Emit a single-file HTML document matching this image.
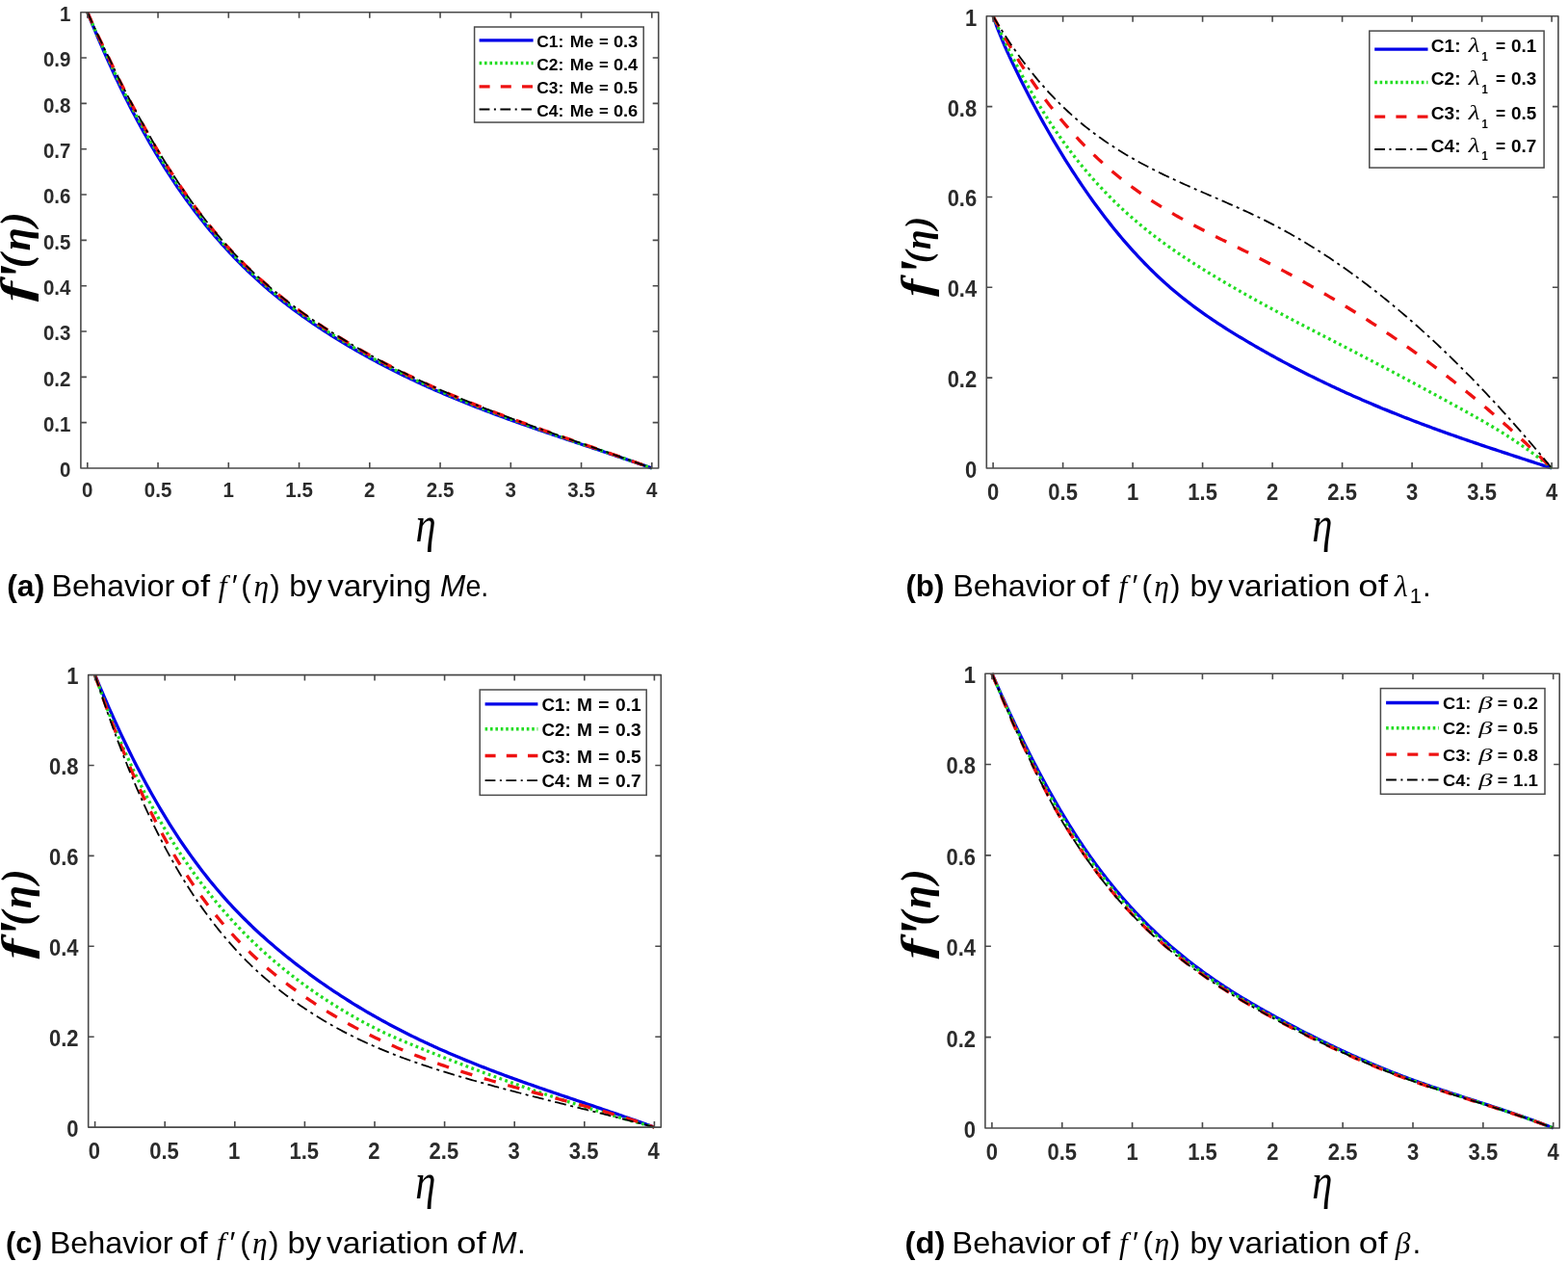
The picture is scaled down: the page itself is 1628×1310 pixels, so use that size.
<!DOCTYPE html>
<html><head><meta charset="utf-8"><title>Behavior of f'(eta)</title>
<style>html,body{margin:0;padding:0;background:#fff;overflow:hidden;} svg{display:block;}</style></head>
<body><svg width="1628" height="1310" viewBox="0 0 1628 1310">
<rect width="1628" height="1310" fill="#fff"/>
<clipPath id="clipa"><rect x="80.9" y="9.7" width="605.8000000000001" height="479.3"/></clipPath>
<g clip-path="url(#clipa)" fill="none" stroke-linecap="butt" stroke-linejoin="round">
<path d="M90.80,12.70 L93.25,18.77 L95.70,24.76 L98.16,30.67 L100.61,36.51 L103.06,42.26 L105.51,47.94 L107.96,53.54 L110.42,59.07 L112.87,64.52 L115.32,69.90 L117.77,75.21 L120.22,80.45 L122.67,85.61 L125.13,90.70 L127.58,95.73 L130.03,100.68 L132.48,105.57 L134.93,110.38 L137.39,115.14 L139.84,119.82 L142.29,124.44 L144.74,129.00 L147.19,133.49 L149.65,137.92 L152.10,142.28 L154.55,146.59 L157.00,150.83 L159.45,155.01 L161.90,159.14 L164.36,163.20 L166.81,167.21 L169.26,171.16 L171.71,175.06 L174.16,178.90 L176.62,182.68 L179.07,186.41 L181.52,190.09 L183.97,193.71 L186.42,197.28 L188.88,200.80 L191.33,204.27 L193.78,207.69 L196.23,211.06 L198.68,214.39 L201.13,217.66 L203.59,220.89 L206.04,224.08 L208.49,227.22 L210.94,230.31 L213.39,233.36 L215.85,236.37 L218.30,239.33 L220.75,242.26 L223.20,245.14 L225.65,247.98 L228.11,250.78 L230.56,253.54 L233.01,256.27 L235.46,258.95 L237.91,261.60 L240.36,264.21 L242.82,266.79 L245.27,269.32 L247.72,271.83 L250.17,274.29 L252.62,276.73 L255.08,279.13 L257.53,281.49 L259.98,283.83 L262.43,286.13 L264.88,288.40 L267.34,290.64 L269.79,292.85 L272.24,295.02 L274.69,297.17 L277.14,299.29 L279.59,301.39 L282.05,303.45 L284.50,305.49 L286.95,307.50 L289.40,309.49 L291.85,311.45 L294.31,313.38 L296.76,315.29 L299.21,317.18 L301.66,319.04 L304.11,320.88 L306.57,322.70 L309.02,324.50 L311.47,326.28 L313.92,328.04 L316.37,329.77 L318.83,331.49 L321.28,333.19 L323.73,334.87 L326.18,336.53 L328.63,338.18 L331.08,339.81 L333.54,341.43 L335.99,343.03 L338.44,344.61 L340.89,346.18 L343.34,347.74 L345.80,349.28 L348.25,350.81 L350.70,352.33 L353.15,353.83 L355.60,355.32 L358.06,356.80 L360.51,358.26 L362.96,359.72 L365.41,361.16 L367.86,362.58 L370.31,364.00 L372.77,365.40 L375.22,366.79 L377.67,368.17 L380.12,369.54 L382.57,370.90 L385.03,372.24 L387.48,373.57 L389.93,374.90 L392.38,376.21 L394.83,377.51 L397.29,378.80 L399.74,380.07 L402.19,381.34 L404.64,382.60 L407.09,383.85 L409.54,385.08 L412.00,386.31 L414.45,387.52 L416.90,388.73 L419.35,389.93 L421.80,391.12 L424.26,392.29 L426.71,393.46 L429.16,394.62 L431.61,395.77 L434.06,396.91 L436.52,398.04 L438.97,399.17 L441.42,400.28 L443.87,401.39 L446.32,402.49 L448.77,403.58 L451.23,404.66 L453.68,405.73 L456.13,406.80 L458.58,407.85 L461.03,408.90 L463.49,409.95 L465.94,410.98 L468.39,412.01 L470.84,413.03 L473.29,414.04 L475.75,415.05 L478.20,416.05 L480.65,417.05 L483.10,418.03 L485.55,419.01 L488.01,419.99 L490.46,420.96 L492.91,421.92 L495.36,422.87 L497.81,423.82 L500.26,424.77 L502.72,425.71 L505.17,426.64 L507.62,427.57 L510.07,428.50 L512.52,429.41 L514.98,430.33 L517.43,431.24 L519.88,432.14 L522.33,433.04 L524.78,433.94 L527.24,434.83 L529.69,435.71 L532.14,436.60 L534.59,437.47 L537.04,438.35 L539.49,439.22 L541.95,440.09 L544.40,440.95 L546.85,441.81 L549.30,442.67 L551.75,443.53 L554.21,444.38 L556.66,445.23 L559.11,446.08 L561.56,446.92 L564.01,447.76 L566.47,448.60 L568.92,449.44 L571.37,450.27 L573.82,451.11 L576.27,451.94 L578.72,452.77 L581.18,453.59 L583.63,454.42 L586.08,455.25 L588.53,456.07 L590.98,456.89 L593.44,457.72 L595.89,458.54 L598.34,459.36 L600.79,460.18 L603.24,461.00 L605.70,461.82 L608.15,462.64 L610.60,463.46 L613.05,464.27 L615.50,465.09 L617.95,465.91 L620.41,466.73 L622.86,467.55 L625.31,468.38 L627.76,469.20 L630.21,470.02 L632.67,470.85 L635.12,471.67 L637.57,472.50 L640.02,473.33 L642.47,474.16 L644.93,474.99 L647.38,475.82 L649.83,476.65 L652.28,477.49 L654.73,478.33 L657.18,479.17 L659.64,480.02 L662.09,480.86 L664.54,481.71 L666.99,482.56 L669.44,483.42 L671.90,484.28 L674.35,485.14 L676.80,486.00" stroke="#0000e8" stroke-width="3.3"/>
<path d="M90.80,12.70 L93.25,18.51 L95.70,24.24 L98.16,29.89 L100.61,35.46 L103.06,40.95 L105.51,46.37 L107.96,51.71 L110.42,56.98 L112.87,62.18 L115.32,67.50 L117.77,72.75 L120.22,77.93 L122.67,83.04 L125.13,88.07 L127.58,93.04 L130.03,97.94 L132.48,102.76 L134.93,107.53 L137.39,112.22 L139.84,116.85 L142.29,121.41 L144.74,125.91 L147.19,130.34 L149.65,134.73 L152.10,139.13 L154.55,143.47 L157.00,147.76 L159.45,151.98 L161.90,156.14 L164.36,160.25 L166.81,164.29 L169.26,168.28 L171.71,172.21 L174.16,176.09 L176.62,179.91 L179.07,183.68 L181.52,187.40 L183.97,191.06 L186.42,194.67 L188.88,198.23 L191.33,201.74 L193.78,205.20 L196.23,208.61 L198.68,211.97 L201.13,215.28 L203.59,218.55 L206.04,221.77 L208.49,224.95 L210.94,228.08 L213.39,231.17 L215.85,234.22 L218.30,237.22 L220.75,240.18 L223.20,243.11 L225.65,245.99 L228.11,248.83 L230.56,251.63 L233.01,254.39 L235.46,257.11 L237.91,259.79 L240.36,262.41 L242.82,264.99 L245.27,267.53 L247.72,270.04 L250.17,272.51 L252.62,274.95 L255.08,277.36 L257.53,279.73 L259.98,282.07 L262.43,284.37 L264.88,286.65 L267.34,288.89 L269.79,291.11 L272.24,293.29 L274.69,295.44 L277.14,297.57 L279.59,299.67 L282.05,301.74 L284.50,303.78 L286.95,305.80 L289.40,307.79 L291.85,309.75 L294.31,311.69 L296.76,313.61 L299.21,315.50 L301.66,317.37 L304.11,319.22 L306.57,321.04 L309.02,322.85 L311.47,324.63 L313.92,326.39 L316.37,328.14 L318.83,329.86 L321.28,331.56 L323.73,333.25 L326.18,334.92 L328.63,336.57 L331.08,338.21 L333.54,339.83 L335.99,341.43 L338.44,343.02 L340.89,344.60 L343.34,346.16 L345.80,347.71 L348.25,349.24 L350.70,350.76 L353.15,352.27 L355.60,353.77 L358.06,355.25 L360.51,356.72 L362.96,358.18 L365.41,359.62 L367.86,361.06 L370.31,362.48 L372.77,363.89 L375.22,365.28 L377.67,366.67 L380.12,368.04 L382.57,369.40 L385.03,370.76 L387.48,372.10 L389.93,373.43 L392.38,374.75 L394.83,376.06 L397.29,377.36 L399.74,378.65 L402.19,379.93 L404.64,381.20 L407.09,382.46 L409.54,383.70 L412.00,384.94 L414.45,386.17 L416.90,387.38 L419.35,388.59 L421.80,389.79 L424.26,390.98 L426.71,392.16 L429.16,393.33 L431.61,394.49 L434.06,395.64 L436.52,396.78 L438.97,397.92 L441.42,399.04 L443.87,400.16 L446.32,401.27 L448.77,402.37 L451.23,403.46 L453.68,404.54 L456.13,405.62 L458.58,406.69 L461.03,407.75 L463.49,408.80 L465.94,409.85 L468.39,410.89 L470.84,411.92 L473.29,412.94 L475.75,413.96 L478.20,414.97 L480.65,415.98 L483.10,416.97 L485.55,417.97 L488.01,418.95 L490.46,419.93 L492.91,420.90 L495.36,421.87 L497.81,422.83 L500.26,423.79 L502.72,424.74 L505.17,425.68 L507.62,426.62 L510.07,427.56 L512.52,428.48 L514.98,429.41 L517.43,430.33 L519.88,431.24 L522.33,432.15 L524.78,433.06 L527.24,433.96 L529.69,434.86 L532.14,435.75 L534.59,436.65 L537.04,437.54 L539.49,438.42 L541.95,439.30 L544.40,440.18 L546.85,441.06 L549.30,441.93 L551.75,442.80 L554.21,443.67 L556.66,444.53 L559.11,445.39 L561.56,446.25 L564.01,447.10 L566.47,447.96 L568.92,448.81 L571.37,449.66 L573.82,450.51 L576.27,451.35 L578.72,452.20 L581.18,453.04 L583.63,453.88 L586.08,454.72 L588.53,455.56 L590.98,456.39 L593.44,457.23 L595.89,458.07 L598.34,458.90 L600.79,459.74 L603.24,460.57 L605.70,461.40 L608.15,462.24 L610.60,463.07 L613.05,463.90 L615.50,464.74 L617.95,465.57 L620.41,466.41 L622.86,467.24 L625.31,468.08 L627.76,468.91 L630.21,469.75 L632.67,470.59 L635.12,471.43 L637.57,472.27 L640.02,473.11 L642.47,473.96 L644.93,474.80 L647.38,475.65 L649.83,476.50 L652.28,477.35 L654.73,478.20 L657.18,479.06 L659.64,479.92 L662.09,480.78 L664.54,481.64 L666.99,482.51 L669.44,483.38 L671.90,484.25 L674.35,485.12 L676.80,486.00" stroke="#22dd22" stroke-width="3.3" stroke-dasharray="2.8 3.4"/>
<path d="M90.80,12.70 L93.25,18.25 L95.70,23.72 L98.16,29.10 L100.61,34.41 L103.06,39.65 L105.51,44.80 L107.96,49.88 L110.42,54.89 L112.87,59.83 L115.32,65.10 L117.77,70.29 L120.22,75.41 L122.67,80.46 L125.13,85.44 L127.58,90.35 L130.03,95.19 L132.48,99.96 L134.93,104.67 L137.39,109.31 L139.84,113.88 L142.29,118.38 L144.74,122.82 L147.19,127.20 L149.65,131.53 L152.10,135.98 L154.55,140.36 L157.00,144.68 L159.45,148.94 L161.90,153.14 L164.36,157.29 L166.81,161.37 L169.26,165.40 L171.71,169.37 L174.16,173.29 L176.62,177.15 L179.07,180.95 L181.52,184.71 L183.97,188.41 L186.42,192.06 L188.88,195.66 L191.33,199.20 L193.78,202.70 L196.23,206.15 L198.68,209.55 L201.13,212.90 L203.59,216.21 L206.04,219.47 L208.49,222.69 L210.94,225.86 L213.39,228.99 L215.85,232.07 L218.30,235.11 L220.75,238.11 L223.20,241.07 L225.65,243.99 L228.11,246.87 L230.56,249.71 L233.01,252.51 L235.46,255.28 L237.91,257.98 L240.36,260.60 L242.82,263.19 L245.27,265.74 L247.72,268.25 L250.17,270.73 L252.62,273.17 L255.08,275.58 L257.53,277.96 L259.98,280.31 L262.43,282.62 L264.88,284.90 L267.34,287.15 L269.79,289.37 L272.24,291.56 L274.69,293.72 L277.14,295.85 L279.59,297.95 L282.05,300.03 L284.50,302.07 L286.95,304.10 L289.40,306.09 L291.85,308.06 L294.31,310.01 L296.76,311.93 L299.21,313.83 L301.66,315.70 L304.11,317.56 L306.57,319.39 L309.02,321.19 L311.47,322.98 L313.92,324.75 L316.37,326.50 L318.83,328.23 L321.28,329.94 L323.73,331.63 L326.18,333.30 L328.63,334.96 L331.08,336.60 L333.54,338.23 L335.99,339.84 L338.44,341.43 L340.89,343.01 L343.34,344.58 L345.80,346.13 L348.25,347.67 L350.70,349.20 L353.15,350.71 L355.60,352.22 L358.06,353.70 L360.51,355.18 L362.96,356.64 L365.41,358.09 L367.86,359.53 L370.31,360.96 L372.77,362.37 L375.22,363.77 L377.67,365.16 L380.12,366.54 L382.57,367.91 L385.03,369.27 L387.48,370.62 L389.93,371.97 L392.38,373.30 L394.83,374.62 L397.29,375.93 L399.74,377.23 L402.19,378.52 L404.64,379.80 L407.09,381.07 L409.54,382.32 L412.00,383.57 L414.45,384.81 L416.90,386.04 L419.35,387.26 L421.80,388.47 L424.26,389.66 L426.71,390.85 L429.16,392.03 L431.61,393.21 L434.06,394.37 L436.52,395.52 L438.97,396.67 L441.42,397.80 L443.87,398.93 L446.32,400.05 L448.77,401.16 L451.23,402.26 L453.68,403.36 L456.13,404.45 L458.58,405.52 L461.03,406.60 L463.49,407.66 L465.94,408.72 L468.39,409.77 L470.84,410.81 L473.29,411.84 L475.75,412.87 L478.20,413.89 L480.65,414.91 L483.10,415.92 L485.55,416.92 L488.01,417.91 L490.46,418.90 L492.91,419.89 L495.36,420.87 L497.81,421.84 L500.26,422.80 L502.72,423.76 L505.17,424.72 L507.62,425.67 L510.07,426.61 L512.52,427.55 L514.98,428.49 L517.43,429.42 L519.88,430.35 L522.33,431.27 L524.78,432.18 L527.24,433.10 L529.69,434.00 L532.14,434.91 L534.59,435.82 L537.04,436.72 L539.49,437.62 L541.95,438.52 L544.40,439.41 L546.85,440.30 L549.30,441.19 L551.75,442.07 L554.21,442.95 L556.66,443.83 L559.11,444.71 L561.56,445.58 L564.01,446.45 L566.47,447.32 L568.92,448.18 L571.37,449.05 L573.82,449.91 L576.27,450.77 L578.72,451.63 L581.18,452.48 L583.63,453.34 L586.08,454.19 L588.53,455.04 L590.98,455.90 L593.44,456.75 L595.89,457.60 L598.34,458.45 L600.79,459.29 L603.24,460.14 L605.70,460.99 L608.15,461.84 L610.60,462.69 L613.05,463.53 L615.50,464.38 L617.95,465.23 L620.41,466.08 L622.86,466.93 L625.31,467.78 L627.76,468.63 L630.21,469.48 L632.67,470.33 L635.12,471.19 L637.57,472.04 L640.02,472.90 L642.47,473.76 L644.93,474.62 L647.38,475.48 L649.83,476.34 L652.28,477.21 L654.73,478.07 L657.18,478.94 L659.64,479.82 L662.09,480.69 L664.54,481.57 L666.99,482.45 L669.44,483.33 L671.90,484.22 L674.35,485.11 L676.80,486.00" stroke="#ee1111" stroke-width="3.3" stroke-dasharray="12.5 13"/>
<path d="M90.80,12.70 L93.25,18.19 L95.70,23.60 L98.16,28.93 L100.61,34.18 L103.06,39.36 L105.51,44.45 L107.96,49.48 L110.42,54.42 L112.87,59.31 L115.32,64.57 L117.77,69.75 L120.22,74.85 L122.67,79.89 L125.13,84.86 L127.58,89.75 L130.03,94.58 L132.48,99.34 L134.93,104.03 L137.39,108.66 L139.84,113.22 L142.29,117.71 L144.74,122.14 L147.19,126.50 L149.65,130.83 L152.10,135.28 L154.55,139.67 L157.00,144.00 L159.45,148.27 L161.90,152.48 L164.36,156.63 L166.81,160.72 L169.26,164.76 L171.71,168.74 L174.16,172.66 L176.62,176.53 L179.07,180.35 L181.52,184.11 L183.97,187.82 L186.42,191.48 L188.88,195.08 L191.33,198.64 L193.78,202.15 L196.23,205.60 L198.68,209.01 L201.13,212.37 L203.59,215.69 L206.04,218.96 L208.49,222.18 L210.94,225.36 L213.39,228.50 L215.85,231.59 L218.30,234.64 L220.75,237.65 L223.20,240.62 L225.65,243.55 L228.11,246.44 L230.56,249.29 L233.01,252.10 L235.46,254.87 L237.91,257.58 L240.36,260.20 L242.82,262.79 L245.27,265.34 L247.72,267.85 L250.17,270.33 L252.62,272.78 L255.08,275.19 L257.53,277.57 L259.98,279.91 L262.43,282.23 L264.88,284.51 L267.34,286.76 L269.79,288.98 L272.24,291.17 L274.69,293.33 L277.14,295.46 L279.59,297.57 L282.05,299.65 L284.50,301.69 L286.95,303.72 L289.40,305.72 L291.85,307.69 L294.31,309.63 L296.76,311.56 L299.21,313.46 L301.66,315.33 L304.11,317.19 L306.57,319.02 L309.02,320.83 L311.47,322.62 L313.92,324.38 L316.37,326.13 L318.83,327.86 L321.28,329.57 L323.73,331.27 L326.18,332.94 L328.63,334.60 L331.08,336.24 L333.54,337.87 L335.99,339.48 L338.44,341.08 L340.89,342.66 L343.34,344.23 L345.80,345.78 L348.25,347.32 L350.70,348.85 L353.15,350.37 L355.60,351.87 L358.06,353.36 L360.51,354.84 L362.96,356.30 L365.41,357.75 L367.86,359.19 L370.31,360.62 L372.77,362.04 L375.22,363.44 L377.67,364.83 L380.12,366.21 L382.57,367.58 L385.03,368.94 L387.48,370.30 L389.93,371.64 L392.38,372.98 L394.83,374.30 L397.29,375.61 L399.74,376.92 L402.19,378.21 L404.64,379.49 L407.09,380.76 L409.54,382.02 L412.00,383.27 L414.45,384.51 L416.90,385.74 L419.35,386.96 L421.80,388.17 L424.26,389.37 L426.71,390.56 L429.16,391.75 L431.61,392.92 L434.06,394.09 L436.52,395.24 L438.97,396.39 L441.42,397.53 L443.87,398.66 L446.32,399.78 L448.77,400.89 L451.23,402.00 L453.68,403.09 L456.13,404.18 L458.58,405.27 L461.03,406.34 L463.49,407.41 L465.94,408.46 L468.39,409.52 L470.84,410.56 L473.29,411.60 L475.75,412.63 L478.20,413.65 L480.65,414.67 L483.10,415.68 L485.55,416.69 L488.01,417.68 L490.46,418.68 L492.91,419.66 L495.36,420.64 L497.81,421.62 L500.26,422.59 L502.72,423.55 L505.17,424.51 L507.62,425.46 L510.07,426.41 L512.52,427.35 L514.98,428.29 L517.43,429.22 L519.88,430.15 L522.33,431.07 L524.78,431.99 L527.24,432.90 L529.69,433.81 L532.14,434.73 L534.59,435.64 L537.04,436.54 L539.49,437.45 L541.95,438.35 L544.40,439.24 L546.85,440.14 L549.30,441.02 L551.75,441.91 L554.21,442.80 L556.66,443.68 L559.11,444.55 L561.56,445.43 L564.01,446.30 L566.47,447.17 L568.92,448.04 L571.37,448.91 L573.82,449.77 L576.27,450.64 L578.72,451.50 L581.18,452.36 L583.63,453.22 L586.08,454.07 L588.53,454.93 L590.98,455.78 L593.44,456.64 L595.89,457.49 L598.34,458.34 L600.79,459.20 L603.24,460.05 L605.70,460.90 L608.15,461.75 L610.60,462.60 L613.05,463.45 L615.50,464.30 L617.95,465.15 L620.41,466.01 L622.86,466.86 L625.31,467.71 L627.76,468.56 L630.21,469.42 L632.67,470.28 L635.12,471.13 L637.57,471.99 L640.02,472.85 L642.47,473.71 L644.93,474.57 L647.38,475.44 L649.83,476.31 L652.28,477.17 L654.73,478.05 L657.18,478.92 L659.64,479.79 L662.09,480.67 L664.54,481.55 L666.99,482.44 L669.44,483.32 L671.90,484.21 L674.35,485.11 L676.80,486.00" stroke="#000000" stroke-width="1.8" stroke-dasharray="12 4.5 3 4.5"/>
</g>
<path d="M90.80,486.00V480.00M90.80,12.70V18.70M164.05,486.00V480.00M164.05,12.70V18.70M237.30,486.00V480.00M237.30,12.70V18.70M310.55,486.00V480.00M310.55,12.70V18.70M383.80,486.00V480.00M383.80,12.70V18.70M457.05,486.00V480.00M457.05,12.70V18.70M530.30,486.00V480.00M530.30,12.70V18.70M603.55,486.00V480.00M603.55,12.70V18.70M676.80,486.00V480.00M676.80,12.70V18.70M83.90,438.67H89.90M683.70,438.67H677.70M83.90,391.34H89.90M683.70,391.34H677.70M83.90,344.01H89.90M683.70,344.01H677.70M83.90,296.68H89.90M683.70,296.68H677.70M83.90,249.35H89.90M683.70,249.35H677.70M83.90,202.02H89.90M683.70,202.02H677.70M83.90,154.69H89.90M683.70,154.69H677.70M83.90,107.36H89.90M683.70,107.36H677.70M83.90,60.03H89.90M683.70,60.03H677.70" stroke="#4a4a4a" stroke-width="1.6" fill="none"/>
<rect x="83.90" y="12.70" width="599.80" height="473.30" fill="none" stroke="#4a4a4a" stroke-width="1.6" stroke-linejoin="round"/>
<g font-family="Liberation Sans, Arial, Helvetica, sans-serif" font-weight="bold" font-size="20.5" fill="#2b2b2b">
<text transform="translate(90.80,515.50) scale(1,1.06)" text-anchor="middle">0</text>
<text transform="translate(164.05,515.50) scale(1,1.06)" text-anchor="middle">0.5</text>
<text transform="translate(237.30,515.50) scale(1,1.06)" text-anchor="middle">1</text>
<text transform="translate(310.55,515.50) scale(1,1.06)" text-anchor="middle">1.5</text>
<text transform="translate(383.80,515.50) scale(1,1.06)" text-anchor="middle">2</text>
<text transform="translate(457.05,515.50) scale(1,1.06)" text-anchor="middle">2.5</text>
<text transform="translate(530.30,515.50) scale(1,1.06)" text-anchor="middle">3</text>
<text transform="translate(603.55,515.50) scale(1,1.06)" text-anchor="middle">3.5</text>
<text transform="translate(676.80,515.50) scale(1,1.06)" text-anchor="middle">4</text>
<text transform="translate(73.40,495.34) scale(1,1.06)" text-anchor="end">0</text>
<text transform="translate(73.40,448.01) scale(1,1.06)" text-anchor="end">0.1</text>
<text transform="translate(73.40,400.68) scale(1,1.06)" text-anchor="end">0.2</text>
<text transform="translate(73.40,353.35) scale(1,1.06)" text-anchor="end">0.3</text>
<text transform="translate(73.40,306.02) scale(1,1.06)" text-anchor="end">0.4</text>
<text transform="translate(73.40,258.69) scale(1,1.06)" text-anchor="end">0.5</text>
<text transform="translate(73.40,211.36) scale(1,1.06)" text-anchor="end">0.6</text>
<text transform="translate(73.40,164.03) scale(1,1.06)" text-anchor="end">0.7</text>
<text transform="translate(73.40,116.70) scale(1,1.06)" text-anchor="end">0.8</text>
<text transform="translate(73.40,69.37) scale(1,1.06)" text-anchor="end">0.9</text>
<text transform="translate(73.40,22.04) scale(1,1.06)" text-anchor="end">1</text>
</g>
<rect x="492.6" y="28" width="175.60" height="99.00" fill="#fff" stroke="#4a4a4a" stroke-width="1.5"/>
<path d="M497.6,41.9H553.6" stroke="#0000e8" stroke-width="3.3" fill="none"/>
<path d="M497.6,65.5H553.6" stroke="#22dd22" stroke-width="3.4" stroke-dasharray="2.6 2.8" fill="none"/>
<path d="M497.6,89.9H553.6" stroke="#ee1111" stroke-width="3.4" stroke-dasharray="11 11.2" fill="none"/>
<path d="M497.6,113.5H553.6" stroke="#000000" stroke-width="1.8" stroke-dasharray="10.8 4.5 2 4.5" fill="none"/>
<text x="557.21" y="49.10" font-family="Liberation Sans, Arial, Helvetica, sans-serif" font-weight="bold" font-size="16.5" fill="#000" textLength="27.99" lengthAdjust="spacingAndGlyphs">C1:</text>
<text x="591.71" y="49.10" font-family="Liberation Sans, Arial, Helvetica, sans-serif" font-weight="bold" font-size="16.5" fill="#000" textLength="24.59" lengthAdjust="spacingAndGlyphs">Me</text>
<text x="622.11" y="49.10" font-family="Liberation Sans, Arial, Helvetica, sans-serif" font-weight="bold" font-size="16.5" fill="#000" textLength="9.79" lengthAdjust="spacingAndGlyphs">=</text>
<text x="636.90" y="49.10" font-family="Liberation Sans, Arial, Helvetica, sans-serif" font-weight="bold" font-size="16.5" fill="#000" textLength="25.39" lengthAdjust="spacingAndGlyphs">0.3</text>
<text x="557.21" y="72.70" font-family="Liberation Sans, Arial, Helvetica, sans-serif" font-weight="bold" font-size="16.5" fill="#000" textLength="27.99" lengthAdjust="spacingAndGlyphs">C2:</text>
<text x="591.71" y="72.70" font-family="Liberation Sans, Arial, Helvetica, sans-serif" font-weight="bold" font-size="16.5" fill="#000" textLength="24.59" lengthAdjust="spacingAndGlyphs">Me</text>
<text x="622.11" y="72.70" font-family="Liberation Sans, Arial, Helvetica, sans-serif" font-weight="bold" font-size="16.5" fill="#000" textLength="9.79" lengthAdjust="spacingAndGlyphs">=</text>
<text x="636.90" y="72.70" font-family="Liberation Sans, Arial, Helvetica, sans-serif" font-weight="bold" font-size="16.5" fill="#000" textLength="25.39" lengthAdjust="spacingAndGlyphs">0.4</text>
<text x="557.21" y="97.10" font-family="Liberation Sans, Arial, Helvetica, sans-serif" font-weight="bold" font-size="16.5" fill="#000" textLength="27.99" lengthAdjust="spacingAndGlyphs">C3:</text>
<text x="591.71" y="97.10" font-family="Liberation Sans, Arial, Helvetica, sans-serif" font-weight="bold" font-size="16.5" fill="#000" textLength="24.59" lengthAdjust="spacingAndGlyphs">Me</text>
<text x="622.11" y="97.10" font-family="Liberation Sans, Arial, Helvetica, sans-serif" font-weight="bold" font-size="16.5" fill="#000" textLength="9.79" lengthAdjust="spacingAndGlyphs">=</text>
<text x="636.90" y="97.10" font-family="Liberation Sans, Arial, Helvetica, sans-serif" font-weight="bold" font-size="16.5" fill="#000" textLength="25.39" lengthAdjust="spacingAndGlyphs">0.5</text>
<text x="557.21" y="120.70" font-family="Liberation Sans, Arial, Helvetica, sans-serif" font-weight="bold" font-size="16.5" fill="#000" textLength="27.99" lengthAdjust="spacingAndGlyphs">C4:</text>
<text x="591.71" y="120.70" font-family="Liberation Sans, Arial, Helvetica, sans-serif" font-weight="bold" font-size="16.5" fill="#000" textLength="24.59" lengthAdjust="spacingAndGlyphs">Me</text>
<text x="622.11" y="120.70" font-family="Liberation Sans, Arial, Helvetica, sans-serif" font-weight="bold" font-size="16.5" fill="#000" textLength="9.79" lengthAdjust="spacingAndGlyphs">=</text>
<text x="636.90" y="120.70" font-family="Liberation Sans, Arial, Helvetica, sans-serif" font-weight="bold" font-size="16.5" fill="#000" textLength="25.39" lengthAdjust="spacingAndGlyphs">0.6</text>
<g transform="translate(31,312.7) rotate(-90)" font-family="Liberation Serif, Times New Roman, Times, serif" font-weight="bold" font-style="italic" fill="#000"><text transform="translate(10.11,0.00) scale(1.444,1.000)" font-size="44" text-anchor="middle">f</text><text transform="translate(29.30,12.50) scale(1.480,1.500)" font-size="44" text-anchor="middle">'</text><text transform="translate(41.70,0.00) scale(1.000,1.000)" font-size="44" text-anchor="middle">(</text><text transform="translate(64.30,0.00) scale(1.000,1.000)" font-size="44" text-anchor="middle">&#951;</text><text transform="translate(85.40,0.00) scale(1.000,1.000)" font-size="44" text-anchor="middle">)</text></g>
<text transform="translate(442,561.6) scale(0.82,1)" x="0" y="0" font-family="Liberation Serif, Times New Roman, Times, serif" font-style="italic" font-size="52" fill="#000" text-anchor="middle">&#951;</text>
<text x="7.23" y="618.80" font-family="Liberation Sans, Arial, Helvetica, sans-serif" font-weight="bold" font-size="31.5" fill="#000" textLength="39.05" lengthAdjust="spacingAndGlyphs">(a)</text>
<text x="53.52" y="618.80" font-family="Liberation Sans, Arial, Helvetica, sans-serif" font-size="31.5" fill="#000" textLength="127.75" lengthAdjust="spacingAndGlyphs">Behavior</text>
<text x="187.73" y="618.80" font-family="Liberation Sans, Arial, Helvetica, sans-serif" font-size="31.5" fill="#000" textLength="30.35" lengthAdjust="spacingAndGlyphs">of</text>
<text x="231.05" y="618.80" font-family="Liberation Serif, Times New Roman, Times, serif" font-style="italic" font-size="31.5" fill="#000" text-anchor="middle">f</text>
<text x="243.70" y="618.80" font-family="Liberation Sans, Arial, Helvetica, sans-serif" font-size="31.5" fill="#000" text-anchor="middle">&#8242;</text>
<text x="255.50" y="618.80" font-family="Liberation Sans, Arial, Helvetica, sans-serif" font-size="31.5" fill="#000" text-anchor="middle">(</text>
<text x="271.40" y="618.80" font-family="Liberation Serif, Times New Roman, Times, serif" font-style="italic" font-size="31.5" fill="#000" text-anchor="middle">&#951;</text>
<text x="285.60" y="618.80" font-family="Liberation Sans, Arial, Helvetica, sans-serif" font-size="31.5" fill="#000" text-anchor="middle">)</text>
<text x="300.32" y="618.80" font-family="Liberation Sans, Arial, Helvetica, sans-serif" font-size="31.5" fill="#000" textLength="34.15" lengthAdjust="spacingAndGlyphs">by</text>
<text x="339.93" y="618.80" font-family="Liberation Sans, Arial, Helvetica, sans-serif" font-size="31.5" fill="#000" textLength="108.05" lengthAdjust="spacingAndGlyphs">varying</text>
<text x="470.10" y="618.80" font-family="Liberation Sans, Arial, Helvetica, sans-serif" font-style="italic" font-size="31.5" fill="#000" text-anchor="middle">M</text>
<text x="483.43" y="618.80" font-family="Liberation Sans, Arial, Helvetica, sans-serif" font-size="31.5" fill="#000" textLength="23.85" lengthAdjust="spacingAndGlyphs">e.</text>
<clipPath id="clipb"><rect x="1021.3" y="13.8" width="599.6000000000001" height="475.2"/></clipPath>
<g clip-path="url(#clipb)" fill="none" stroke-linecap="butt" stroke-linejoin="round">
<path d="M1031.10,16.80 L1033.53,23.61 L1035.95,30.09 L1038.38,36.26 L1040.81,42.17 L1043.23,47.84 L1045.66,53.31 L1048.09,58.61 L1050.51,63.78 L1052.94,68.85 L1055.37,73.84 L1057.79,78.78 L1060.22,83.66 L1062.65,88.49 L1065.07,93.26 L1067.50,97.97 L1069.93,102.63 L1072.36,107.24 L1074.78,111.79 L1077.21,116.29 L1079.64,120.74 L1082.06,125.13 L1084.49,129.47 L1086.92,133.76 L1089.34,138.01 L1091.77,142.20 L1094.20,146.34 L1096.62,150.43 L1099.05,154.47 L1101.48,158.47 L1103.90,162.42 L1106.33,166.32 L1108.76,170.18 L1111.18,173.99 L1113.61,177.75 L1116.04,181.47 L1118.46,185.15 L1120.89,188.78 L1123.32,192.37 L1125.74,195.91 L1128.17,199.42 L1130.60,202.88 L1133.02,206.30 L1135.45,209.67 L1137.88,213.01 L1140.31,216.30 L1142.73,219.55 L1145.16,222.76 L1147.59,225.93 L1150.01,229.05 L1152.44,232.14 L1154.87,235.19 L1157.29,238.19 L1159.72,241.16 L1162.15,244.09 L1164.57,246.98 L1167.00,249.82 L1169.43,252.63 L1171.85,255.40 L1174.28,258.14 L1176.71,260.83 L1179.13,263.48 L1181.56,266.10 L1183.99,268.68 L1186.41,271.22 L1188.84,273.73 L1191.27,276.19 L1193.69,278.62 L1196.12,281.02 L1198.55,283.38 L1200.97,285.70 L1203.40,287.98 L1205.83,290.23 L1208.25,292.44 L1210.68,294.62 L1213.11,296.77 L1215.54,298.88 L1217.96,300.96 L1220.39,303.01 L1222.82,305.02 L1225.24,307.01 L1227.67,308.97 L1230.10,310.89 L1232.52,312.79 L1234.95,314.67 L1237.38,316.51 L1239.80,318.33 L1242.23,320.13 L1244.66,321.90 L1247.08,323.65 L1249.51,325.37 L1251.94,327.07 L1254.36,328.76 L1256.79,330.42 L1259.22,332.06 L1261.64,333.68 L1264.07,335.29 L1266.50,336.87 L1268.92,338.45 L1271.35,340.00 L1273.78,341.54 L1276.20,343.07 L1278.63,344.58 L1281.06,346.08 L1283.48,347.56 L1285.91,349.04 L1288.34,350.50 L1290.77,351.96 L1293.19,353.41 L1295.62,354.84 L1298.05,356.27 L1300.47,357.69 L1302.90,359.10 L1305.33,360.50 L1307.75,361.89 L1310.18,363.27 L1312.61,364.65 L1315.03,366.01 L1317.46,367.37 L1319.89,368.72 L1322.31,370.05 L1324.74,371.38 L1327.17,372.71 L1329.59,374.02 L1332.02,375.33 L1334.45,376.62 L1336.87,377.91 L1339.30,379.19 L1341.73,380.47 L1344.15,381.73 L1346.58,382.99 L1349.01,384.24 L1351.43,385.48 L1353.86,386.71 L1356.29,387.94 L1358.72,389.15 L1361.14,390.36 L1363.57,391.57 L1366.00,392.76 L1368.42,393.95 L1370.85,395.13 L1373.28,396.30 L1375.70,397.47 L1378.13,398.62 L1380.56,399.78 L1382.98,400.92 L1385.41,402.06 L1387.84,403.19 L1390.26,404.31 L1392.69,405.43 L1395.12,406.53 L1397.54,407.64 L1399.97,408.73 L1402.40,409.82 L1404.82,410.90 L1407.25,411.98 L1409.68,413.05 L1412.10,414.11 L1414.53,415.17 L1416.96,416.22 L1419.38,417.26 L1421.81,418.30 L1424.24,419.33 L1426.66,420.36 L1429.09,421.38 L1431.52,422.39 L1433.95,423.40 L1436.37,424.40 L1438.80,425.40 L1441.23,426.39 L1443.65,427.38 L1446.08,428.36 L1448.51,429.33 L1450.93,430.30 L1453.36,431.26 L1455.79,432.22 L1458.21,433.17 L1460.64,434.12 L1463.07,435.06 L1465.49,436.00 L1467.92,436.93 L1470.35,437.85 L1472.77,438.78 L1475.20,439.69 L1477.63,440.61 L1480.05,441.51 L1482.48,442.41 L1484.91,443.31 L1487.33,444.21 L1489.76,445.09 L1492.19,445.98 L1494.61,446.86 L1497.04,447.73 L1499.47,448.61 L1501.89,449.47 L1504.32,450.34 L1506.75,451.20 L1509.18,452.05 L1511.60,452.90 L1514.03,453.75 L1516.46,454.60 L1518.88,455.44 L1521.31,456.28 L1523.74,457.11 L1526.16,457.95 L1528.59,458.78 L1531.02,459.60 L1533.44,460.43 L1535.87,461.25 L1538.30,462.07 L1540.72,462.88 L1543.15,463.70 L1545.58,464.51 L1548.00,465.32 L1550.43,466.13 L1552.86,466.94 L1555.28,467.74 L1557.71,468.54 L1560.14,469.34 L1562.56,470.14 L1564.99,470.94 L1567.42,471.74 L1569.84,472.54 L1572.27,473.33 L1574.70,474.13 L1577.13,474.92 L1579.55,475.71 L1581.98,476.50 L1584.41,477.30 L1586.83,478.09 L1589.26,478.88 L1591.69,479.67 L1594.11,480.46 L1596.54,481.25 L1598.97,482.04 L1601.39,482.83 L1603.82,483.62 L1606.25,484.42 L1608.67,485.21 L1611.10,486.00" stroke="#0000e8" stroke-width="3.3"/>
<path d="M1031.10,16.80 L1033.53,22.21 L1035.95,27.54 L1038.38,32.78 L1040.81,37.95 L1043.23,43.03 L1045.66,48.04 L1048.09,52.96 L1050.51,57.81 L1052.94,62.59 L1055.37,67.29 L1057.79,71.91 L1060.22,76.47 L1062.65,80.95 L1065.07,85.35 L1067.50,89.69 L1069.93,93.96 L1072.36,98.16 L1074.78,102.30 L1077.21,106.36 L1079.64,110.36 L1082.06,114.30 L1084.49,118.17 L1086.92,121.98 L1089.34,125.73 L1091.77,129.41 L1094.20,133.04 L1096.62,136.61 L1099.05,140.12 L1101.48,143.57 L1103.90,146.97 L1106.33,150.31 L1108.76,153.59 L1111.18,156.83 L1113.61,160.01 L1116.04,163.13 L1118.46,166.21 L1120.89,169.24 L1123.32,172.22 L1125.74,175.15 L1128.17,178.04 L1130.60,180.88 L1133.02,183.67 L1135.45,186.42 L1137.88,189.13 L1140.31,191.79 L1142.73,194.42 L1145.16,197.00 L1147.59,199.54 L1150.01,202.05 L1152.44,204.51 L1154.87,206.94 L1157.29,209.33 L1159.72,211.69 L1162.15,214.01 L1164.57,216.30 L1167.00,218.55 L1169.43,220.76 L1171.85,222.95 L1174.28,225.10 L1176.71,227.22 L1179.13,229.31 L1181.56,231.37 L1183.99,233.41 L1186.41,235.41 L1188.84,237.39 L1191.27,239.33 L1193.69,241.26 L1196.12,243.15 L1198.55,245.02 L1200.97,246.87 L1203.40,248.69 L1205.83,250.50 L1208.25,252.27 L1210.68,254.03 L1213.11,255.77 L1215.54,257.48 L1217.96,259.18 L1220.39,260.86 L1222.82,262.52 L1225.24,264.16 L1227.67,265.79 L1230.10,267.40 L1232.52,268.99 L1234.95,270.58 L1237.38,272.14 L1239.80,273.70 L1242.23,275.24 L1244.66,276.77 L1247.08,278.29 L1249.51,279.80 L1251.94,281.30 L1254.36,282.79 L1256.79,284.27 L1259.22,285.75 L1261.64,287.21 L1264.07,288.67 L1266.50,290.12 L1268.92,291.56 L1271.35,292.99 L1273.78,294.42 L1276.20,295.84 L1278.63,297.25 L1281.06,298.65 L1283.48,300.05 L1285.91,301.44 L1288.34,302.82 L1290.77,304.20 L1293.19,305.57 L1295.62,306.93 L1298.05,308.29 L1300.47,309.64 L1302.90,310.99 L1305.33,312.33 L1307.75,313.67 L1310.18,315.00 L1312.61,316.33 L1315.03,317.65 L1317.46,318.96 L1319.89,320.28 L1322.31,321.58 L1324.74,322.89 L1327.17,324.18 L1329.59,325.48 L1332.02,326.77 L1334.45,328.06 L1336.87,329.34 L1339.30,330.63 L1341.73,331.90 L1344.15,333.18 L1346.58,334.45 L1349.01,335.72 L1351.43,336.99 L1353.86,338.25 L1356.29,339.52 L1358.72,340.78 L1361.14,342.04 L1363.57,343.29 L1366.00,344.55 L1368.42,345.80 L1370.85,347.06 L1373.28,348.31 L1375.70,349.56 L1378.13,350.81 L1380.56,352.06 L1382.98,353.31 L1385.41,354.56 L1387.84,355.81 L1390.26,357.06 L1392.69,358.31 L1395.12,359.56 L1397.54,360.81 L1399.97,362.06 L1402.40,363.32 L1404.82,364.57 L1407.25,365.82 L1409.68,367.08 L1412.10,368.34 L1414.53,369.60 L1416.96,370.86 L1419.38,372.12 L1421.81,373.39 L1424.24,374.65 L1426.66,375.92 L1429.09,377.20 L1431.52,378.47 L1433.95,379.74 L1436.37,381.02 L1438.80,382.30 L1441.23,383.58 L1443.65,384.86 L1446.08,386.15 L1448.51,387.43 L1450.93,388.72 L1453.36,390.01 L1455.79,391.30 L1458.21,392.59 L1460.64,393.89 L1463.07,395.19 L1465.49,396.48 L1467.92,397.79 L1470.35,399.09 L1472.77,400.39 L1475.20,401.70 L1477.63,403.00 L1480.05,404.31 L1482.48,405.63 L1484.91,406.94 L1487.33,408.25 L1489.76,409.57 L1492.19,410.89 L1494.61,412.21 L1497.04,413.53 L1499.47,414.85 L1501.89,416.17 L1504.32,417.50 L1506.75,418.83 L1509.18,420.16 L1511.60,421.49 L1514.03,422.82 L1516.46,424.16 L1518.88,425.49 L1521.31,426.84 L1523.74,428.18 L1526.16,429.53 L1528.59,430.89 L1531.02,432.25 L1533.44,433.62 L1535.87,435.00 L1538.30,436.39 L1540.72,437.78 L1543.15,439.19 L1545.58,440.61 L1548.00,442.04 L1550.43,443.48 L1552.86,444.94 L1555.28,446.41 L1557.71,447.90 L1560.14,449.40 L1562.56,450.92 L1564.99,452.46 L1567.42,454.01 L1569.84,455.59 L1572.27,457.18 L1574.70,458.80 L1577.13,460.43 L1579.55,462.09 L1581.98,463.77 L1584.41,465.47 L1586.83,467.20 L1589.26,468.96 L1591.69,470.74 L1594.11,472.54 L1596.54,474.38 L1598.97,476.24 L1601.39,478.13 L1603.82,480.05 L1606.25,482.00 L1608.67,483.98 L1611.10,486.00" stroke="#22dd22" stroke-width="3.3" stroke-dasharray="2.8 3.4"/>
<path d="M1031.10,16.80 L1033.53,21.32 L1035.95,25.78 L1038.38,30.16 L1040.81,34.49 L1043.23,38.75 L1045.66,42.95 L1048.09,47.09 L1050.51,51.17 L1052.94,55.19 L1055.37,59.15 L1057.79,63.05 L1060.22,66.89 L1062.65,70.67 L1065.07,74.40 L1067.50,78.07 L1069.93,81.68 L1072.36,85.24 L1074.78,88.75 L1077.21,92.20 L1079.64,95.60 L1082.06,98.94 L1084.49,102.23 L1086.92,105.48 L1089.34,108.67 L1091.77,111.81 L1094.20,114.90 L1096.62,117.94 L1099.05,120.93 L1101.48,123.88 L1103.90,126.78 L1106.33,129.63 L1108.76,132.44 L1111.18,135.21 L1113.61,137.92 L1116.04,140.60 L1118.46,143.23 L1120.89,145.82 L1123.32,148.37 L1125.74,150.88 L1128.17,153.34 L1130.60,155.77 L1133.02,158.16 L1135.45,160.50 L1137.88,162.81 L1140.31,165.09 L1142.73,167.32 L1145.16,169.52 L1147.59,171.69 L1150.01,173.82 L1152.44,175.91 L1154.87,177.98 L1157.29,180.01 L1159.72,182.00 L1162.15,183.97 L1164.57,185.91 L1167.00,187.81 L1169.43,189.68 L1171.85,191.53 L1174.28,193.35 L1176.71,195.14 L1179.13,196.90 L1181.56,198.64 L1183.99,200.35 L1186.41,202.03 L1188.84,203.69 L1191.27,205.33 L1193.69,206.94 L1196.12,208.53 L1198.55,210.10 L1200.97,211.65 L1203.40,213.17 L1205.83,214.68 L1208.25,216.16 L1210.68,217.63 L1213.11,219.08 L1215.54,220.51 L1217.96,221.93 L1220.39,223.33 L1222.82,224.71 L1225.24,226.08 L1227.67,227.43 L1230.10,228.77 L1232.52,230.10 L1234.95,231.41 L1237.38,232.71 L1239.80,234.01 L1242.23,235.29 L1244.66,236.56 L1247.08,237.82 L1249.51,239.07 L1251.94,240.31 L1254.36,241.55 L1256.79,242.78 L1259.22,244.01 L1261.64,245.23 L1264.07,246.44 L1266.50,247.65 L1268.92,248.86 L1271.35,250.06 L1273.78,251.26 L1276.20,252.46 L1278.63,253.66 L1281.06,254.86 L1283.48,256.05 L1285.91,257.25 L1288.34,258.45 L1290.77,259.66 L1293.19,260.86 L1295.62,262.07 L1298.05,263.28 L1300.47,264.50 L1302.90,265.72 L1305.33,266.95 L1307.75,268.19 L1310.18,269.43 L1312.61,270.67 L1315.03,271.92 L1317.46,273.18 L1319.89,274.44 L1322.31,275.71 L1324.74,276.98 L1327.17,278.26 L1329.59,279.55 L1332.02,280.84 L1334.45,282.14 L1336.87,283.45 L1339.30,284.76 L1341.73,286.07 L1344.15,287.40 L1346.58,288.73 L1349.01,290.07 L1351.43,291.41 L1353.86,292.76 L1356.29,294.12 L1358.72,295.48 L1361.14,296.85 L1363.57,298.23 L1366.00,299.61 L1368.42,301.00 L1370.85,302.40 L1373.28,303.81 L1375.70,305.22 L1378.13,306.64 L1380.56,308.07 L1382.98,309.50 L1385.41,310.94 L1387.84,312.39 L1390.26,313.85 L1392.69,315.31 L1395.12,316.79 L1397.54,318.27 L1399.97,319.76 L1402.40,321.25 L1404.82,322.76 L1407.25,324.27 L1409.68,325.79 L1412.10,327.31 L1414.53,328.85 L1416.96,330.40 L1419.38,331.95 L1421.81,333.51 L1424.24,335.08 L1426.66,336.66 L1429.09,338.24 L1431.52,339.84 L1433.95,341.44 L1436.37,343.05 L1438.80,344.68 L1441.23,346.31 L1443.65,347.94 L1446.08,349.59 L1448.51,351.25 L1450.93,352.92 L1453.36,354.59 L1455.79,356.28 L1458.21,357.97 L1460.64,359.67 L1463.07,361.38 L1465.49,363.11 L1467.92,364.84 L1470.35,366.58 L1472.77,368.33 L1475.20,370.09 L1477.63,371.86 L1480.05,373.64 L1482.48,375.43 L1484.91,377.23 L1487.33,379.04 L1489.76,380.86 L1492.19,382.69 L1494.61,384.53 L1497.04,386.38 L1499.47,388.24 L1501.89,390.11 L1504.32,391.99 L1506.75,393.88 L1509.18,395.78 L1511.60,397.70 L1514.03,399.62 L1516.46,401.55 L1518.88,403.50 L1521.31,405.46 L1523.74,407.42 L1526.16,409.40 L1528.59,411.39 L1531.02,413.39 L1533.44,415.40 L1535.87,417.42 L1538.30,419.46 L1540.72,421.50 L1543.15,423.56 L1545.58,425.62 L1548.00,427.70 L1550.43,429.79 L1552.86,431.90 L1555.28,434.01 L1557.71,436.14 L1560.14,438.27 L1562.56,440.42 L1564.99,442.59 L1567.42,444.76 L1569.84,446.94 L1572.27,449.14 L1574.70,451.35 L1577.13,453.57 L1579.55,455.81 L1581.98,458.06 L1584.41,460.31 L1586.83,462.59 L1589.26,464.87 L1591.69,467.17 L1594.11,469.48 L1596.54,471.80 L1598.97,474.13 L1601.39,476.48 L1603.82,478.84 L1606.25,481.22 L1608.67,483.60 L1611.10,486.00" stroke="#ee1111" stroke-width="3.3" stroke-dasharray="12.5 13"/>
<path d="M1031.10,16.81 L1033.53,20.86 L1035.95,24.84 L1038.38,28.76 L1040.81,32.60 L1043.23,36.38 L1045.66,40.09 L1048.09,43.73 L1050.51,47.31 L1052.94,50.82 L1055.37,54.27 L1057.79,57.65 L1060.22,60.97 L1062.65,64.23 L1065.07,67.43 L1067.50,70.57 L1069.93,73.66 L1072.36,76.68 L1074.78,79.65 L1077.21,82.56 L1079.64,85.42 L1082.06,88.22 L1084.49,90.97 L1086.92,93.67 L1089.34,96.32 L1091.77,98.91 L1094.20,101.46 L1096.62,103.95 L1099.05,106.40 L1101.48,108.81 L1103.90,111.16 L1106.33,113.47 L1108.76,115.74 L1111.18,117.96 L1113.61,120.15 L1116.04,122.28 L1118.46,124.38 L1120.89,126.44 L1123.32,128.46 L1125.74,130.44 L1128.17,132.39 L1130.60,134.30 L1133.02,136.17 L1135.45,138.01 L1137.88,139.82 L1140.31,141.59 L1142.73,143.33 L1145.16,145.04 L1147.59,146.72 L1150.01,148.37 L1152.44,150.00 L1154.87,151.59 L1157.29,153.16 L1159.72,154.71 L1162.15,156.23 L1164.57,157.72 L1167.00,159.20 L1169.43,160.65 L1171.85,162.08 L1174.28,163.48 L1176.71,164.87 L1179.13,166.24 L1181.56,167.59 L1183.99,168.92 L1186.41,170.23 L1188.84,171.53 L1191.27,172.80 L1193.69,174.07 L1196.12,175.31 L1198.55,176.54 L1200.97,177.76 L1203.40,178.96 L1205.83,180.15 L1208.25,181.33 L1210.68,182.50 L1213.11,183.65 L1215.54,184.79 L1217.96,185.92 L1220.39,187.05 L1222.82,188.16 L1225.24,189.27 L1227.67,190.36 L1230.10,191.45 L1232.52,192.54 L1234.95,193.61 L1237.38,194.69 L1239.80,195.75 L1242.23,196.81 L1244.66,197.87 L1247.08,198.93 L1249.51,199.98 L1251.94,201.03 L1254.36,202.08 L1256.79,203.13 L1259.22,204.18 L1261.64,205.23 L1264.07,206.28 L1266.50,207.33 L1268.92,208.39 L1271.35,209.44 L1273.78,210.50 L1276.20,211.57 L1278.63,212.64 L1281.06,213.71 L1283.48,214.79 L1285.91,215.88 L1288.34,216.97 L1290.77,218.07 L1293.19,219.18 L1295.62,220.30 L1298.05,221.43 L1300.47,222.56 L1302.90,223.71 L1305.33,224.87 L1307.75,226.04 L1310.18,227.23 L1312.61,228.42 L1315.03,229.63 L1317.46,230.86 L1319.89,232.09 L1322.31,233.35 L1324.74,234.62 L1327.17,235.90 L1329.59,237.20 L1332.02,238.51 L1334.45,239.84 L1336.87,241.18 L1339.30,242.54 L1341.73,243.91 L1344.15,245.29 L1346.58,246.69 L1349.01,248.11 L1351.43,249.54 L1353.86,250.99 L1356.29,252.45 L1358.72,253.92 L1361.14,255.41 L1363.57,256.92 L1366.00,258.44 L1368.42,259.97 L1370.85,261.52 L1373.28,263.08 L1375.70,264.66 L1378.13,266.25 L1380.56,267.86 L1382.98,269.48 L1385.41,271.12 L1387.84,272.77 L1390.26,274.43 L1392.69,276.11 L1395.12,277.81 L1397.54,279.52 L1399.97,281.24 L1402.40,282.98 L1404.82,284.73 L1407.25,286.50 L1409.68,288.28 L1412.10,290.08 L1414.53,291.89 L1416.96,293.72 L1419.38,295.56 L1421.81,297.41 L1424.24,299.28 L1426.66,301.16 L1429.09,303.06 L1431.52,304.97 L1433.95,306.90 L1436.37,308.84 L1438.80,310.80 L1441.23,312.77 L1443.65,314.75 L1446.08,316.75 L1448.51,318.77 L1450.93,320.79 L1453.36,322.84 L1455.79,324.89 L1458.21,326.96 L1460.64,329.05 L1463.07,331.15 L1465.49,333.26 L1467.92,335.39 L1470.35,337.53 L1472.77,339.69 L1475.20,341.86 L1477.63,344.05 L1480.05,346.25 L1482.48,348.46 L1484.91,350.69 L1487.33,352.93 L1489.76,355.19 L1492.19,357.46 L1494.61,359.75 L1497.04,362.04 L1499.47,364.36 L1501.89,366.69 L1504.32,369.03 L1506.75,371.38 L1509.18,373.76 L1511.60,376.14 L1514.03,378.54 L1516.46,380.95 L1518.88,383.38 L1521.31,385.82 L1523.74,388.28 L1526.16,390.74 L1528.59,393.23 L1531.02,395.73 L1533.44,398.24 L1535.87,400.76 L1538.30,403.30 L1540.72,405.86 L1543.15,408.43 L1545.58,411.01 L1548.00,413.60 L1550.43,416.21 L1552.86,418.84 L1555.28,421.48 L1557.71,424.13 L1560.14,426.79 L1562.56,429.47 L1564.99,432.17 L1567.42,434.88 L1569.84,437.60 L1572.27,440.34 L1574.70,443.09 L1577.13,445.85 L1579.55,448.63 L1581.98,451.42 L1584.41,454.22 L1586.83,457.04 L1589.26,459.88 L1591.69,462.72 L1594.11,465.59 L1596.54,468.46 L1598.97,471.35 L1601.39,474.25 L1603.82,477.17 L1606.25,480.10 L1608.67,483.04 L1611.10,486.00" stroke="#000000" stroke-width="1.8" stroke-dasharray="12 4.5 3 4.5"/>
</g>
<path d="M1031.10,486.00V480.00M1031.10,16.80V22.80M1103.60,486.00V480.00M1103.60,16.80V22.80M1176.10,486.00V480.00M1176.10,16.80V22.80M1248.60,486.00V480.00M1248.60,16.80V22.80M1321.10,486.00V480.00M1321.10,16.80V22.80M1393.60,486.00V480.00M1393.60,16.80V22.80M1466.10,486.00V480.00M1466.10,16.80V22.80M1538.60,486.00V480.00M1538.60,16.80V22.80M1611.10,486.00V480.00M1611.10,16.80V22.80M1024.30,392.16H1030.30M1617.90,392.16H1611.90M1024.30,298.32H1030.30M1617.90,298.32H1611.90M1024.30,204.48H1030.30M1617.90,204.48H1611.90M1024.30,110.64H1030.30M1617.90,110.64H1611.90" stroke="#4a4a4a" stroke-width="1.6" fill="none"/>
<rect x="1024.30" y="16.80" width="593.60" height="469.20" fill="none" stroke="#4a4a4a" stroke-width="1.6" stroke-linejoin="round"/>
<g font-family="Liberation Sans, Arial, Helvetica, sans-serif" font-weight="bold" font-size="22" fill="#2b2b2b">
<text transform="translate(1031.10,518.90) scale(1,1.06)" text-anchor="middle">0</text>
<text transform="translate(1103.60,518.90) scale(1,1.06)" text-anchor="middle">0.5</text>
<text transform="translate(1176.10,518.90) scale(1,1.06)" text-anchor="middle">1</text>
<text transform="translate(1248.60,518.90) scale(1,1.06)" text-anchor="middle">1.5</text>
<text transform="translate(1321.10,518.90) scale(1,1.06)" text-anchor="middle">2</text>
<text transform="translate(1393.60,518.90) scale(1,1.06)" text-anchor="middle">2.5</text>
<text transform="translate(1466.10,518.90) scale(1,1.06)" text-anchor="middle">3</text>
<text transform="translate(1538.60,518.90) scale(1,1.06)" text-anchor="middle">3.5</text>
<text transform="translate(1611.10,518.90) scale(1,1.06)" text-anchor="middle">4</text>
<text transform="translate(1014.20,495.88) scale(1,1.06)" text-anchor="end">0</text>
<text transform="translate(1014.20,402.04) scale(1,1.06)" text-anchor="end">0.2</text>
<text transform="translate(1014.20,308.20) scale(1,1.06)" text-anchor="end">0.4</text>
<text transform="translate(1014.20,214.36) scale(1,1.06)" text-anchor="end">0.6</text>
<text transform="translate(1014.20,120.52) scale(1,1.06)" text-anchor="end">0.8</text>
<text transform="translate(1014.20,26.68) scale(1,1.06)" text-anchor="end">1</text>
</g>
<rect x="1421.8" y="32.1" width="181.30" height="142.00" fill="#fff" stroke="#4a4a4a" stroke-width="1.5"/>
<path d="M1427.2,51.2H1482.5" stroke="#0000e8" stroke-width="3.3" fill="none"/>
<path d="M1427.2,85.5H1482.5" stroke="#22dd22" stroke-width="3.4" stroke-dasharray="2.6 2.8" fill="none"/>
<path d="M1427.2,121.1H1482.5" stroke="#ee1111" stroke-width="3.4" stroke-dasharray="11 11.2" fill="none"/>
<path d="M1427.2,155H1482.5" stroke="#000000" stroke-width="1.8" stroke-dasharray="10.8 4.5 2 4.5" fill="none"/>
<text x="1485.77" y="54.00" font-family="Liberation Sans, Arial, Helvetica, sans-serif" font-weight="bold" font-size="17.5" fill="#000" textLength="30.85" lengthAdjust="spacingAndGlyphs">C1:</text>
<text x="1524.67" y="54.00" font-family="Liberation Serif, Times New Roman, Times, serif" font-style="italic" font-size="20.1" fill="#000" textLength="11.75" lengthAdjust="spacingAndGlyphs">&#955;</text>
<text x="1538.47" y="62.60" font-family="Liberation Sans, Arial, Helvetica, sans-serif" font-weight="bold" font-size="13.1" fill="#000" textLength="6.35" lengthAdjust="spacingAndGlyphs">1</text>
<text x="1552.97" y="54.00" font-family="Liberation Sans, Arial, Helvetica, sans-serif" font-weight="bold" font-size="17.5" fill="#000" textLength="10.15" lengthAdjust="spacingAndGlyphs">=</text>
<text x="1568.97" y="54.00" font-family="Liberation Sans, Arial, Helvetica, sans-serif" font-weight="bold" font-size="17.5" fill="#000" textLength="26.25" lengthAdjust="spacingAndGlyphs">0.1</text>
<text x="1485.77" y="88.30" font-family="Liberation Sans, Arial, Helvetica, sans-serif" font-weight="bold" font-size="17.5" fill="#000" textLength="30.85" lengthAdjust="spacingAndGlyphs">C2:</text>
<text x="1524.67" y="88.30" font-family="Liberation Serif, Times New Roman, Times, serif" font-style="italic" font-size="20.1" fill="#000" textLength="11.75" lengthAdjust="spacingAndGlyphs">&#955;</text>
<text x="1538.47" y="96.90" font-family="Liberation Sans, Arial, Helvetica, sans-serif" font-weight="bold" font-size="13.1" fill="#000" textLength="6.35" lengthAdjust="spacingAndGlyphs">1</text>
<text x="1552.97" y="88.30" font-family="Liberation Sans, Arial, Helvetica, sans-serif" font-weight="bold" font-size="17.5" fill="#000" textLength="10.15" lengthAdjust="spacingAndGlyphs">=</text>
<text x="1568.97" y="88.30" font-family="Liberation Sans, Arial, Helvetica, sans-serif" font-weight="bold" font-size="17.5" fill="#000" textLength="26.25" lengthAdjust="spacingAndGlyphs">0.3</text>
<text x="1485.77" y="123.90" font-family="Liberation Sans, Arial, Helvetica, sans-serif" font-weight="bold" font-size="17.5" fill="#000" textLength="30.85" lengthAdjust="spacingAndGlyphs">C3:</text>
<text x="1524.67" y="123.90" font-family="Liberation Serif, Times New Roman, Times, serif" font-style="italic" font-size="20.1" fill="#000" textLength="11.75" lengthAdjust="spacingAndGlyphs">&#955;</text>
<text x="1538.47" y="132.50" font-family="Liberation Sans, Arial, Helvetica, sans-serif" font-weight="bold" font-size="13.1" fill="#000" textLength="6.35" lengthAdjust="spacingAndGlyphs">1</text>
<text x="1552.97" y="123.90" font-family="Liberation Sans, Arial, Helvetica, sans-serif" font-weight="bold" font-size="17.5" fill="#000" textLength="10.15" lengthAdjust="spacingAndGlyphs">=</text>
<text x="1568.97" y="123.90" font-family="Liberation Sans, Arial, Helvetica, sans-serif" font-weight="bold" font-size="17.5" fill="#000" textLength="26.25" lengthAdjust="spacingAndGlyphs">0.5</text>
<text x="1485.77" y="157.80" font-family="Liberation Sans, Arial, Helvetica, sans-serif" font-weight="bold" font-size="17.5" fill="#000" textLength="30.85" lengthAdjust="spacingAndGlyphs">C4:</text>
<text x="1524.67" y="157.80" font-family="Liberation Serif, Times New Roman, Times, serif" font-style="italic" font-size="20.1" fill="#000" textLength="11.75" lengthAdjust="spacingAndGlyphs">&#955;</text>
<text x="1538.47" y="166.40" font-family="Liberation Sans, Arial, Helvetica, sans-serif" font-weight="bold" font-size="13.1" fill="#000" textLength="6.35" lengthAdjust="spacingAndGlyphs">1</text>
<text x="1552.97" y="157.80" font-family="Liberation Sans, Arial, Helvetica, sans-serif" font-weight="bold" font-size="17.5" fill="#000" textLength="10.15" lengthAdjust="spacingAndGlyphs">=</text>
<text x="1568.97" y="157.80" font-family="Liberation Sans, Arial, Helvetica, sans-serif" font-weight="bold" font-size="17.5" fill="#000" textLength="26.25" lengthAdjust="spacingAndGlyphs">0.7</text>
<g transform="translate(966,307.7) rotate(-90)" font-family="Liberation Serif, Times New Roman, Times, serif" font-weight="bold" font-style="italic" fill="#000"><text transform="translate(8.83,0.00) scale(1.261,1.000)" font-size="44" text-anchor="middle">f</text><text transform="translate(29.30,12.50) scale(1.400,1.500)" font-size="44" text-anchor="middle">'</text><text transform="translate(40.75,0.00) scale(1.000,1.000)" font-size="37" text-anchor="middle">(</text><text transform="translate(58.85,0.00) scale(1.000,1.000)" font-size="37" text-anchor="middle">&#951;</text><text transform="translate(76.70,0.00) scale(1.000,1.000)" font-size="37" text-anchor="middle">)</text></g>
<text transform="translate(1372.8,561.6) scale(0.82,1)" x="0" y="0" font-family="Liberation Serif, Times New Roman, Times, serif" font-style="italic" font-size="52" fill="#000" text-anchor="middle">&#951;</text>
<text x="940.42" y="618.70" font-family="Liberation Sans, Arial, Helvetica, sans-serif" font-weight="bold" font-size="31.5" fill="#000" textLength="39.95" lengthAdjust="spacingAndGlyphs">(b)</text>
<text x="989.22" y="618.70" font-family="Liberation Sans, Arial, Helvetica, sans-serif" font-size="31.5" fill="#000" textLength="127.85" lengthAdjust="spacingAndGlyphs">Behavior</text>
<text x="1122.83" y="618.70" font-family="Liberation Sans, Arial, Helvetica, sans-serif" font-size="31.5" fill="#000" textLength="28.95" lengthAdjust="spacingAndGlyphs">of</text>
<text x="1166.00" y="618.70" font-family="Liberation Serif, Times New Roman, Times, serif" font-style="italic" font-size="31.5" fill="#000" text-anchor="middle">f</text>
<text x="1178.50" y="618.70" font-family="Liberation Sans, Arial, Helvetica, sans-serif" font-size="31.5" fill="#000" text-anchor="middle">&#8242;</text>
<text x="1190.70" y="618.70" font-family="Liberation Sans, Arial, Helvetica, sans-serif" font-size="31.5" fill="#000" text-anchor="middle">(</text>
<text x="1205.95" y="618.70" font-family="Liberation Serif, Times New Roman, Times, serif" font-style="italic" font-size="31.5" fill="#000" text-anchor="middle">&#951;</text>
<text x="1220.20" y="618.70" font-family="Liberation Sans, Arial, Helvetica, sans-serif" font-size="31.5" fill="#000" text-anchor="middle">)</text>
<text x="1235.62" y="618.70" font-family="Liberation Sans, Arial, Helvetica, sans-serif" font-size="31.5" fill="#000" textLength="34.15" lengthAdjust="spacingAndGlyphs">by</text>
<text x="1275.22" y="618.70" font-family="Liberation Sans, Arial, Helvetica, sans-serif" font-size="31.5" fill="#000" textLength="126.95" lengthAdjust="spacingAndGlyphs">variation</text>
<text x="1410.22" y="618.70" font-family="Liberation Sans, Arial, Helvetica, sans-serif" font-size="31.5" fill="#000" textLength="30.65" lengthAdjust="spacingAndGlyphs">of</text>
<text x="1454.75" y="618.70" font-family="Liberation Serif, Times New Roman, Times, serif" font-style="italic" font-size="31.5" fill="#000" text-anchor="middle">&#955;</text>
<text x="1469.85" y="626.20" font-family="Liberation Sans, Arial, Helvetica, sans-serif" font-size="22.0" fill="#000" text-anchor="middle">1</text>
<text x="1481.45" y="618.70" font-family="Liberation Sans, Arial, Helvetica, sans-serif" font-size="31.5" fill="#000" text-anchor="middle">.</text>
<clipPath id="clipc"><rect x="88.7" y="697.6" width="600.5999999999999" height="475.4999999999999"/></clipPath>
<g clip-path="url(#clipc)" fill="none" stroke-linecap="butt" stroke-linejoin="round">
<path d="M98.60,700.60 L101.03,706.47 L103.46,712.28 L105.89,718.01 L108.32,723.68 L110.75,729.28 L113.18,734.80 L115.61,740.26 L118.04,745.65 L120.47,750.97 L122.90,756.23 L125.33,761.42 L127.76,766.54 L130.19,771.59 L132.62,776.58 L135.05,781.51 L137.48,786.37 L139.91,791.17 L142.34,795.90 L144.77,800.57 L147.20,805.18 L149.63,809.73 L152.06,814.22 L154.49,818.64 L156.92,823.01 L159.35,827.31 L161.78,831.55 L164.21,835.74 L166.64,839.87 L169.07,843.94 L171.50,847.95 L173.93,851.90 L176.36,855.80 L178.79,859.64 L181.22,863.43 L183.65,867.16 L186.08,870.83 L188.51,874.46 L190.94,878.02 L193.37,881.54 L195.81,885.00 L198.24,888.41 L200.67,891.77 L203.10,895.08 L205.53,898.34 L207.96,901.54 L210.39,904.71 L212.82,907.82 L215.25,910.89 L217.68,913.91 L220.11,916.88 L222.54,919.82 L224.97,922.70 L227.40,925.55 L229.83,928.35 L232.26,931.12 L234.69,933.84 L237.12,936.53 L239.55,939.17 L241.98,941.78 L244.41,944.35 L246.84,946.88 L249.27,949.38 L251.70,951.85 L254.13,954.28 L256.56,956.68 L258.99,959.04 L261.42,961.37 L263.85,963.68 L266.28,965.95 L268.71,968.20 L271.14,970.41 L273.57,972.60 L276.00,974.77 L278.43,976.90 L280.86,979.01 L283.29,981.10 L285.72,983.17 L288.15,985.21 L290.58,987.23 L293.01,989.23 L295.44,991.21 L297.87,993.17 L300.30,995.11 L302.73,997.03 L305.16,998.94 L307.59,1000.83 L310.02,1002.70 L312.45,1004.55 L314.88,1006.39 L317.31,1008.21 L319.74,1010.01 L322.17,1011.80 L324.60,1013.57 L327.03,1015.32 L329.46,1017.06 L331.89,1018.78 L334.32,1020.49 L336.75,1022.18 L339.18,1023.85 L341.61,1025.51 L344.04,1027.15 L346.47,1028.78 L348.90,1030.40 L351.33,1031.99 L353.76,1033.58 L356.19,1035.15 L358.62,1036.70 L361.05,1038.24 L363.48,1039.77 L365.91,1041.28 L368.34,1042.78 L370.77,1044.26 L373.20,1045.73 L375.63,1047.19 L378.06,1048.64 L380.49,1050.07 L382.92,1051.48 L385.35,1052.89 L387.78,1054.28 L390.22,1055.66 L392.65,1057.03 L395.08,1058.38 L397.51,1059.72 L399.94,1061.06 L402.37,1062.37 L404.80,1063.68 L407.23,1064.97 L409.66,1066.26 L412.09,1067.53 L414.52,1068.79 L416.95,1070.04 L419.38,1071.28 L421.81,1072.51 L424.24,1073.72 L426.67,1074.93 L429.10,1076.13 L431.53,1077.31 L433.96,1078.49 L436.39,1079.66 L438.82,1080.81 L441.25,1081.96 L443.68,1083.10 L446.11,1084.22 L448.54,1085.34 L450.97,1086.45 L453.40,1087.55 L455.83,1088.64 L458.26,1089.72 L460.69,1090.80 L463.12,1091.86 L465.55,1092.92 L467.98,1093.97 L470.41,1095.01 L472.84,1096.05 L475.27,1097.07 L477.70,1098.09 L480.13,1099.10 L482.56,1100.10 L484.99,1101.10 L487.42,1102.09 L489.85,1103.07 L492.28,1104.05 L494.71,1105.02 L497.14,1105.98 L499.57,1106.93 L502.00,1107.89 L504.43,1108.83 L506.86,1109.77 L509.29,1110.70 L511.72,1111.63 L514.15,1112.55 L516.58,1113.46 L519.01,1114.38 L521.44,1115.28 L523.87,1116.18 L526.30,1117.08 L528.73,1117.97 L531.16,1118.86 L533.59,1119.74 L536.02,1120.62 L538.45,1121.49 L540.88,1122.36 L543.31,1123.23 L545.74,1124.09 L548.17,1124.95 L550.60,1125.81 L553.03,1126.66 L555.46,1127.51 L557.89,1128.36 L560.32,1129.21 L562.75,1130.05 L565.18,1130.89 L567.61,1131.72 L570.04,1132.56 L572.47,1133.39 L574.90,1134.22 L577.33,1135.05 L579.76,1135.88 L582.19,1136.70 L584.63,1137.53 L587.06,1138.35 L589.49,1139.17 L591.92,1139.99 L594.35,1140.81 L596.78,1141.63 L599.21,1142.45 L601.64,1143.27 L604.07,1144.09 L606.50,1144.91 L608.93,1145.73 L611.36,1146.54 L613.79,1147.36 L616.22,1148.18 L618.65,1149.00 L621.08,1149.82 L623.51,1150.64 L625.94,1151.47 L628.37,1152.29 L630.80,1153.11 L633.23,1153.94 L635.66,1154.77 L638.09,1155.60 L640.52,1156.43 L642.95,1157.26 L645.38,1158.10 L647.81,1158.94 L650.24,1159.78 L652.67,1160.62 L655.10,1161.47 L657.53,1162.31 L659.96,1163.17 L662.39,1164.02 L664.82,1164.88 L667.25,1165.74 L669.68,1166.60 L672.11,1167.47 L674.54,1168.35 L676.97,1169.22 L679.40,1170.10" stroke="#0000e8" stroke-width="3.3"/>
<path d="M98.60,700.60 L101.03,707.61 L103.46,714.47 L105.89,721.19 L108.32,727.77 L110.75,734.21 L113.18,740.53 L115.61,746.71 L118.04,752.77 L120.47,758.71 L122.90,764.53 L125.33,770.24 L127.76,775.83 L130.19,781.32 L132.62,786.70 L135.05,791.98 L137.48,797.16 L139.91,802.25 L142.34,807.25 L144.77,812.16 L147.20,816.99 L149.63,821.73 L152.06,826.40 L154.49,830.99 L156.92,835.50 L159.35,839.94 L161.78,844.31 L164.21,848.61 L166.64,852.83 L169.07,856.99 L171.50,861.08 L173.93,865.10 L176.36,869.06 L178.79,872.96 L181.22,876.80 L183.65,880.58 L186.08,884.29 L188.51,887.96 L190.94,891.56 L193.37,895.12 L195.81,898.62 L198.24,902.07 L200.67,905.47 L203.10,908.83 L205.53,912.13 L207.96,915.39 L210.39,918.60 L212.82,921.77 L215.25,924.89 L217.68,927.97 L220.11,931.01 L222.54,934.00 L224.97,936.95 L227.40,939.85 L229.83,942.72 L232.26,945.54 L234.69,948.33 L237.12,951.07 L239.55,953.78 L241.98,956.45 L244.41,959.07 L246.84,961.67 L249.27,964.22 L251.70,966.74 L254.13,969.23 L256.56,971.67 L258.99,974.09 L261.42,976.47 L263.85,978.82 L266.28,981.13 L268.71,983.42 L271.14,985.67 L273.57,987.89 L276.00,990.08 L278.43,992.25 L280.86,994.38 L283.29,996.48 L285.72,998.56 L288.15,1000.61 L290.58,1002.64 L293.01,1004.63 L295.44,1006.61 L297.87,1008.55 L300.30,1010.48 L302.73,1012.38 L305.16,1014.25 L307.59,1016.11 L310.02,1017.94 L312.45,1019.75 L314.88,1021.54 L317.31,1023.30 L319.74,1025.05 L322.17,1026.77 L324.60,1028.48 L327.03,1030.16 L329.46,1031.83 L331.89,1033.47 L334.32,1035.10 L336.75,1036.70 L339.18,1038.29 L341.61,1039.86 L344.04,1041.42 L346.47,1042.95 L348.90,1044.47 L351.33,1045.97 L353.76,1047.46 L356.19,1048.93 L358.62,1050.38 L361.05,1051.82 L363.48,1053.25 L365.91,1054.65 L368.34,1056.05 L370.77,1057.42 L373.20,1058.78 L375.63,1060.13 L378.06,1061.45 L380.49,1062.76 L382.92,1064.04 L385.35,1065.31 L387.78,1066.56 L390.22,1067.79 L392.65,1068.99 L395.08,1070.18 L397.51,1071.34 L399.94,1072.48 L402.37,1073.60 L404.80,1074.71 L407.23,1075.80 L409.66,1076.87 L412.09,1077.93 L414.52,1078.97 L416.95,1080.00 L419.38,1081.03 L421.81,1082.04 L424.24,1083.05 L426.67,1084.05 L429.10,1085.04 L431.53,1086.03 L433.96,1087.02 L436.39,1088.01 L438.82,1088.99 L441.25,1089.96 L443.68,1090.94 L446.11,1091.91 L448.54,1092.88 L450.97,1093.84 L453.40,1094.80 L455.83,1095.76 L458.26,1096.72 L460.69,1097.67 L463.12,1098.62 L465.55,1099.56 L467.98,1100.50 L470.41,1101.44 L472.84,1102.38 L475.27,1103.31 L477.70,1104.24 L480.13,1105.16 L482.56,1106.08 L484.99,1107.00 L487.42,1107.92 L489.85,1108.83 L492.28,1109.74 L494.71,1110.64 L497.14,1111.55 L499.57,1112.45 L502.00,1113.34 L504.43,1114.24 L506.86,1115.12 L509.29,1116.01 L511.72,1116.89 L514.15,1117.77 L516.58,1118.65 L519.01,1119.52 L521.44,1120.39 L523.87,1121.26 L526.30,1122.12 L528.73,1122.98 L531.16,1123.84 L533.59,1124.69 L536.02,1125.55 L538.45,1126.39 L540.88,1127.24 L543.31,1128.08 L545.74,1128.92 L548.17,1129.75 L550.60,1130.58 L553.03,1131.41 L555.46,1132.24 L557.89,1133.06 L560.32,1133.88 L562.75,1134.69 L565.18,1135.50 L567.61,1136.31 L570.04,1137.12 L572.47,1137.92 L574.90,1138.72 L577.33,1139.52 L579.76,1140.31 L582.19,1141.10 L584.63,1141.89 L587.06,1142.67 L589.49,1143.45 L591.92,1144.23 L594.35,1145.00 L596.78,1145.77 L599.21,1146.54 L601.64,1147.30 L604.07,1148.06 L606.50,1148.82 L608.93,1149.58 L611.36,1150.33 L613.79,1151.08 L616.22,1151.82 L618.65,1152.57 L621.08,1153.30 L623.51,1154.04 L625.94,1154.77 L628.37,1155.50 L630.80,1156.23 L633.23,1156.95 L635.66,1157.67 L638.09,1158.39 L640.52,1159.10 L642.95,1159.81 L645.38,1160.52 L647.81,1161.23 L650.24,1161.93 L652.67,1162.63 L655.10,1163.32 L657.53,1164.01 L659.96,1164.70 L662.39,1165.39 L664.82,1166.07 L667.25,1166.75 L669.68,1167.43 L672.11,1168.10 L674.54,1168.77 L676.97,1169.44 L679.40,1170.10" stroke="#22dd22" stroke-width="3.3" stroke-dasharray="2.8 3.4"/>
<path d="M98.60,700.60 L101.03,707.74 L103.46,714.77 L105.89,721.69 L108.32,728.50 L110.75,735.20 L113.18,741.79 L115.61,748.27 L118.04,754.65 L120.47,760.93 L122.90,767.10 L125.33,773.17 L127.76,779.14 L130.19,785.02 L132.62,790.80 L135.05,796.48 L137.48,802.07 L139.91,807.56 L142.34,812.96 L144.77,818.27 L147.20,823.50 L149.63,828.63 L152.06,833.68 L154.49,838.65 L156.92,843.53 L159.35,848.32 L161.78,853.04 L164.21,857.68 L166.64,862.24 L169.07,866.72 L171.50,871.12 L173.93,875.45 L176.36,879.71 L178.79,883.90 L181.22,888.01 L183.65,892.06 L186.08,896.03 L188.51,899.94 L190.94,903.79 L193.37,907.56 L195.81,911.27 L198.24,914.92 L200.67,918.51 L203.10,922.03 L205.53,925.49 L207.96,928.89 L210.39,932.23 L212.82,935.52 L215.25,938.74 L217.68,941.91 L220.11,945.03 L222.54,948.09 L224.97,951.10 L227.40,954.05 L229.83,956.95 L232.26,959.81 L234.69,962.61 L237.12,965.36 L239.55,968.07 L241.98,970.73 L244.41,973.35 L246.84,975.92 L249.27,978.44 L251.70,980.92 L254.13,983.37 L256.56,985.77 L258.99,988.13 L261.42,990.45 L263.85,992.73 L266.28,994.98 L268.71,997.19 L271.14,999.36 L273.57,1001.50 L276.00,1003.61 L278.43,1005.69 L280.86,1007.73 L283.29,1009.75 L285.72,1011.73 L288.15,1013.69 L290.58,1015.61 L293.01,1017.52 L295.44,1019.39 L297.87,1021.24 L300.30,1023.07 L302.73,1024.88 L305.16,1026.66 L307.59,1028.43 L310.02,1030.17 L312.45,1031.89 L314.88,1033.59 L317.31,1035.28 L319.74,1036.94 L322.17,1038.58 L324.60,1040.21 L327.03,1041.81 L329.46,1043.40 L331.89,1044.96 L334.32,1046.51 L336.75,1048.04 L339.18,1049.55 L341.61,1051.05 L344.04,1052.53 L346.47,1053.98 L348.90,1055.43 L351.33,1056.85 L353.76,1058.26 L356.19,1059.65 L358.62,1061.02 L361.05,1062.38 L363.48,1063.72 L365.91,1065.04 L368.34,1066.35 L370.77,1067.64 L373.20,1068.92 L375.63,1070.18 L378.06,1071.43 L380.49,1072.66 L382.92,1073.88 L385.35,1075.08 L387.78,1076.27 L390.22,1077.45 L392.65,1078.61 L395.08,1079.75 L397.51,1080.88 L399.94,1082.00 L402.37,1083.11 L404.80,1084.20 L407.23,1085.28 L409.66,1086.35 L412.09,1087.40 L414.52,1088.45 L416.95,1089.48 L419.38,1090.49 L421.81,1091.50 L424.24,1092.50 L426.67,1093.48 L429.10,1094.45 L431.53,1095.41 L433.96,1096.36 L436.39,1097.30 L438.82,1098.23 L441.25,1099.15 L443.68,1100.06 L446.11,1100.96 L448.54,1101.85 L450.97,1102.73 L453.40,1103.60 L455.83,1104.46 L458.26,1105.32 L460.69,1106.16 L463.12,1107.00 L465.55,1107.82 L467.98,1108.64 L470.41,1109.45 L472.84,1110.26 L475.27,1111.05 L477.70,1111.84 L480.13,1112.62 L482.56,1113.40 L484.99,1114.16 L487.42,1114.92 L489.85,1115.68 L492.28,1116.43 L494.71,1117.17 L497.14,1117.90 L499.57,1118.63 L502.00,1119.36 L504.43,1120.08 L506.86,1120.79 L509.29,1121.50 L511.72,1122.21 L514.15,1122.91 L516.58,1123.60 L519.01,1124.29 L521.44,1124.98 L523.87,1125.66 L526.30,1126.34 L528.73,1127.02 L531.16,1127.69 L533.59,1128.36 L536.02,1129.03 L538.45,1129.69 L540.88,1130.36 L543.31,1131.02 L545.74,1131.67 L548.17,1132.33 L550.60,1132.98 L553.03,1133.64 L555.46,1134.29 L557.89,1134.94 L560.32,1135.59 L562.75,1136.23 L565.18,1136.88 L567.61,1137.53 L570.04,1138.17 L572.47,1138.82 L574.90,1139.47 L577.33,1140.12 L579.76,1140.76 L582.19,1141.41 L584.63,1142.06 L587.06,1142.71 L589.49,1143.36 L591.92,1144.02 L594.35,1144.67 L596.78,1145.33 L599.21,1145.99 L601.64,1146.65 L604.07,1147.31 L606.50,1147.98 L608.93,1148.65 L611.36,1149.32 L613.79,1149.99 L616.22,1150.67 L618.65,1151.35 L621.08,1152.04 L623.51,1152.73 L625.94,1153.42 L628.37,1154.12 L630.80,1154.82 L633.23,1155.53 L635.66,1156.24 L638.09,1156.96 L640.52,1157.68 L642.95,1158.41 L645.38,1159.14 L647.81,1159.88 L650.24,1160.62 L652.67,1161.38 L655.10,1162.13 L657.53,1162.90 L659.96,1163.67 L662.39,1164.45 L664.82,1165.23 L667.25,1166.02 L669.68,1166.82 L672.11,1167.63 L674.54,1168.45 L676.97,1169.27 L679.40,1170.10" stroke="#ee1111" stroke-width="3.3" stroke-dasharray="12.5 13"/>
<path d="M98.60,700.61 L101.03,708.13 L103.46,715.53 L105.89,722.82 L108.32,729.99 L110.75,737.04 L113.18,743.98 L115.61,750.81 L118.04,757.53 L120.47,764.14 L122.90,770.64 L125.33,777.03 L127.76,783.32 L130.19,789.50 L132.62,795.58 L135.05,801.56 L137.48,807.43 L139.91,813.21 L142.34,818.89 L144.77,824.47 L147.20,829.95 L149.63,835.34 L152.06,840.64 L154.49,845.85 L156.92,850.96 L159.35,855.99 L161.78,860.92 L164.21,865.77 L166.64,870.54 L169.07,875.22 L171.50,879.82 L173.93,884.33 L176.36,888.77 L178.79,893.13 L181.22,897.40 L183.65,901.61 L186.08,905.73 L188.51,909.79 L190.94,913.76 L193.37,917.67 L195.81,921.51 L198.24,925.28 L200.67,928.98 L203.10,932.62 L205.53,936.19 L207.96,939.69 L210.39,943.13 L212.82,946.52 L215.25,949.84 L217.68,953.10 L220.11,956.31 L222.54,959.45 L224.97,962.54 L227.40,965.58 L229.83,968.56 L232.26,971.49 L234.69,974.37 L237.12,977.19 L239.55,979.96 L241.98,982.69 L244.41,985.36 L246.84,987.99 L249.27,990.57 L251.70,993.10 L254.13,995.59 L256.56,998.03 L258.99,1000.43 L261.42,1002.79 L263.85,1005.11 L266.28,1007.38 L268.71,1009.62 L271.14,1011.82 L273.57,1013.98 L276.00,1016.10 L278.43,1018.19 L280.86,1020.24 L283.29,1022.26 L285.72,1024.25 L288.15,1026.20 L290.58,1028.12 L293.01,1030.02 L295.44,1031.88 L297.87,1033.71 L300.30,1035.52 L302.73,1037.30 L305.16,1039.05 L307.59,1040.78 L310.02,1042.49 L312.45,1044.17 L314.88,1045.82 L317.31,1047.46 L319.74,1049.06 L322.17,1050.65 L324.60,1052.21 L327.03,1053.75 L329.46,1055.27 L331.89,1056.77 L334.32,1058.24 L336.75,1059.70 L339.18,1061.13 L341.61,1062.54 L344.04,1063.93 L346.47,1065.30 L348.90,1066.65 L351.33,1067.98 L353.76,1069.29 L356.19,1070.59 L358.62,1071.86 L361.05,1073.12 L363.48,1074.35 L365.91,1075.57 L368.34,1076.77 L370.77,1077.96 L373.20,1079.13 L375.63,1080.28 L378.06,1081.41 L380.49,1082.53 L382.92,1083.63 L385.35,1084.72 L387.78,1085.79 L390.22,1086.85 L392.65,1087.90 L395.08,1088.92 L397.51,1089.94 L399.94,1090.94 L402.37,1091.93 L404.80,1092.90 L407.23,1093.86 L409.66,1094.81 L412.09,1095.75 L414.52,1096.68 L416.95,1097.59 L419.38,1098.49 L421.81,1099.38 L424.24,1100.26 L426.67,1101.13 L429.10,1101.99 L431.53,1102.85 L433.96,1103.69 L436.39,1104.52 L438.82,1105.34 L441.25,1106.15 L443.68,1106.96 L446.11,1107.76 L448.54,1108.55 L450.97,1109.33 L453.40,1110.11 L455.83,1110.87 L458.26,1111.64 L460.69,1112.39 L463.12,1113.14 L465.55,1113.89 L467.98,1114.62 L470.41,1115.36 L472.84,1116.09 L475.27,1116.81 L477.70,1117.53 L480.13,1118.24 L482.56,1118.95 L484.99,1119.66 L487.42,1120.36 L489.85,1121.06 L492.28,1121.75 L494.71,1122.44 L497.14,1123.13 L499.57,1123.81 L502.00,1124.48 L504.43,1125.16 L506.86,1125.83 L509.29,1126.49 L511.72,1127.16 L514.15,1127.82 L516.58,1128.47 L519.01,1129.13 L521.44,1129.78 L523.87,1130.43 L526.30,1131.07 L528.73,1131.71 L531.16,1132.35 L533.59,1132.99 L536.02,1133.62 L538.45,1134.25 L540.88,1134.88 L543.31,1135.51 L545.74,1136.14 L548.17,1136.76 L550.60,1137.38 L553.03,1138.00 L555.46,1138.62 L557.89,1139.24 L560.32,1139.85 L562.75,1140.47 L565.18,1141.08 L567.61,1141.69 L570.04,1142.30 L572.47,1142.91 L574.90,1143.52 L577.33,1144.12 L579.76,1144.73 L582.19,1145.34 L584.63,1145.94 L587.06,1146.55 L589.49,1147.15 L591.92,1147.75 L594.35,1148.36 L596.78,1148.96 L599.21,1149.56 L601.64,1150.17 L604.07,1150.77 L606.50,1151.38 L608.93,1151.98 L611.36,1152.59 L613.79,1153.19 L616.22,1153.80 L618.65,1154.41 L621.08,1155.01 L623.51,1155.62 L625.94,1156.23 L628.37,1156.84 L630.80,1157.46 L633.23,1158.07 L635.66,1158.68 L638.09,1159.30 L640.52,1159.92 L642.95,1160.54 L645.38,1161.16 L647.81,1161.78 L650.24,1162.41 L652.67,1163.04 L655.10,1163.67 L657.53,1164.30 L659.96,1164.93 L662.39,1165.57 L664.82,1166.21 L667.25,1166.85 L669.68,1167.49 L672.11,1168.14 L674.54,1168.79 L676.97,1169.44 L679.40,1170.10" stroke="#000000" stroke-width="1.8" stroke-dasharray="12 4.5 3 4.5"/>
</g>
<path d="M98.60,1170.10V1164.10M98.60,700.60V706.60M171.20,1170.10V1164.10M171.20,700.60V706.60M243.80,1170.10V1164.10M243.80,700.60V706.60M316.40,1170.10V1164.10M316.40,700.60V706.60M389.00,1170.10V1164.10M389.00,700.60V706.60M461.60,1170.10V1164.10M461.60,700.60V706.60M534.20,1170.10V1164.10M534.20,700.60V706.60M606.80,1170.10V1164.10M606.80,700.60V706.60M679.40,1170.10V1164.10M679.40,700.60V706.60M91.70,1076.20H97.70M686.30,1076.20H680.30M91.70,982.30H97.70M686.30,982.30H680.30M91.70,888.40H97.70M686.30,888.40H680.30M91.70,794.50H97.70M686.30,794.50H680.30" stroke="#4a4a4a" stroke-width="1.6" fill="none"/>
<rect x="91.70" y="700.60" width="594.60" height="469.50" fill="none" stroke="#4a4a4a" stroke-width="1.6" stroke-linejoin="round"/>
<g font-family="Liberation Sans, Arial, Helvetica, sans-serif" font-weight="bold" font-size="22" fill="#2b2b2b">
<text transform="translate(97.90,1203.30) scale(1,1.06)" text-anchor="middle">0</text>
<text transform="translate(170.50,1203.30) scale(1,1.06)" text-anchor="middle">0.5</text>
<text transform="translate(243.10,1203.30) scale(1,1.06)" text-anchor="middle">1</text>
<text transform="translate(315.70,1203.30) scale(1,1.06)" text-anchor="middle">1.5</text>
<text transform="translate(388.30,1203.30) scale(1,1.06)" text-anchor="middle">2</text>
<text transform="translate(460.90,1203.30) scale(1,1.06)" text-anchor="middle">2.5</text>
<text transform="translate(533.50,1203.30) scale(1,1.06)" text-anchor="middle">3</text>
<text transform="translate(606.10,1203.30) scale(1,1.06)" text-anchor="middle">3.5</text>
<text transform="translate(678.70,1203.30) scale(1,1.06)" text-anchor="middle">4</text>
<text transform="translate(81.60,1179.98) scale(1,1.06)" text-anchor="end">0</text>
<text transform="translate(81.60,1086.08) scale(1,1.06)" text-anchor="end">0.2</text>
<text transform="translate(81.60,992.18) scale(1,1.06)" text-anchor="end">0.4</text>
<text transform="translate(81.60,898.28) scale(1,1.06)" text-anchor="end">0.6</text>
<text transform="translate(81.60,804.38) scale(1,1.06)" text-anchor="end">0.8</text>
<text transform="translate(81.60,710.48) scale(1,1.06)" text-anchor="end">1</text>
</g>
<rect x="498.2" y="716" width="173.00" height="109.40" fill="#fff" stroke="#4a4a4a" stroke-width="1.5"/>
<path d="M503.6,730.8H558.4" stroke="#0000e8" stroke-width="3.3" fill="none"/>
<path d="M503.6,756.8H558.4" stroke="#22dd22" stroke-width="3.4" stroke-dasharray="2.6 2.8" fill="none"/>
<path d="M503.6,784.5H558.4" stroke="#ee1111" stroke-width="3.4" stroke-dasharray="11 11.2" fill="none"/>
<path d="M503.6,810.1H558.4" stroke="#000000" stroke-width="1.8" stroke-dasharray="10.8 4.5 2 4.5" fill="none"/>
<text x="562.57" y="738.00" font-family="Liberation Sans, Arial, Helvetica, sans-serif" font-weight="bold" font-size="17.8" fill="#000" textLength="30.17" lengthAdjust="spacingAndGlyphs">C1:</text>
<text x="599.07" y="738.00" font-family="Liberation Sans, Arial, Helvetica, sans-serif" font-weight="bold" font-size="17.8" fill="#000" textLength="15.97" lengthAdjust="spacingAndGlyphs">M</text>
<text x="621.37" y="738.00" font-family="Liberation Sans, Arial, Helvetica, sans-serif" font-weight="bold" font-size="17.8" fill="#000" textLength="11.17" lengthAdjust="spacingAndGlyphs">=</text>
<text x="638.97" y="738.00" font-family="Liberation Sans, Arial, Helvetica, sans-serif" font-weight="bold" font-size="17.8" fill="#000" textLength="26.67" lengthAdjust="spacingAndGlyphs">0.1</text>
<text x="562.57" y="764.00" font-family="Liberation Sans, Arial, Helvetica, sans-serif" font-weight="bold" font-size="17.8" fill="#000" textLength="30.17" lengthAdjust="spacingAndGlyphs">C2:</text>
<text x="599.07" y="764.00" font-family="Liberation Sans, Arial, Helvetica, sans-serif" font-weight="bold" font-size="17.8" fill="#000" textLength="15.97" lengthAdjust="spacingAndGlyphs">M</text>
<text x="621.37" y="764.00" font-family="Liberation Sans, Arial, Helvetica, sans-serif" font-weight="bold" font-size="17.8" fill="#000" textLength="11.17" lengthAdjust="spacingAndGlyphs">=</text>
<text x="638.97" y="764.00" font-family="Liberation Sans, Arial, Helvetica, sans-serif" font-weight="bold" font-size="17.8" fill="#000" textLength="26.67" lengthAdjust="spacingAndGlyphs">0.3</text>
<text x="562.57" y="791.70" font-family="Liberation Sans, Arial, Helvetica, sans-serif" font-weight="bold" font-size="17.8" fill="#000" textLength="30.17" lengthAdjust="spacingAndGlyphs">C3:</text>
<text x="599.07" y="791.70" font-family="Liberation Sans, Arial, Helvetica, sans-serif" font-weight="bold" font-size="17.8" fill="#000" textLength="15.97" lengthAdjust="spacingAndGlyphs">M</text>
<text x="621.37" y="791.70" font-family="Liberation Sans, Arial, Helvetica, sans-serif" font-weight="bold" font-size="17.8" fill="#000" textLength="11.17" lengthAdjust="spacingAndGlyphs">=</text>
<text x="638.97" y="791.70" font-family="Liberation Sans, Arial, Helvetica, sans-serif" font-weight="bold" font-size="17.8" fill="#000" textLength="26.67" lengthAdjust="spacingAndGlyphs">0.5</text>
<text x="562.57" y="817.30" font-family="Liberation Sans, Arial, Helvetica, sans-serif" font-weight="bold" font-size="17.8" fill="#000" textLength="30.17" lengthAdjust="spacingAndGlyphs">C4:</text>
<text x="599.07" y="817.30" font-family="Liberation Sans, Arial, Helvetica, sans-serif" font-weight="bold" font-size="17.8" fill="#000" textLength="15.97" lengthAdjust="spacingAndGlyphs">M</text>
<text x="621.37" y="817.30" font-family="Liberation Sans, Arial, Helvetica, sans-serif" font-weight="bold" font-size="17.8" fill="#000" textLength="11.17" lengthAdjust="spacingAndGlyphs">=</text>
<text x="638.97" y="817.30" font-family="Liberation Sans, Arial, Helvetica, sans-serif" font-weight="bold" font-size="17.8" fill="#000" textLength="26.67" lengthAdjust="spacingAndGlyphs">0.7</text>
<g transform="translate(31.5,995.1) rotate(-90)" font-family="Liberation Serif, Times New Roman, Times, serif" font-weight="bold" font-style="italic" fill="#000"><text transform="translate(10.03,0.00) scale(1.433,1.000)" font-size="44" text-anchor="middle">f</text><text transform="translate(29.70,12.50) scale(1.500,1.500)" font-size="44" text-anchor="middle">'</text><text transform="translate(41.65,0.00) scale(1.000,1.000)" font-size="44" text-anchor="middle">(</text><text transform="translate(64.00,0.00) scale(1.000,1.000)" font-size="44" text-anchor="middle">&#951;</text><text transform="translate(85.60,0.00) scale(1.000,1.000)" font-size="44" text-anchor="middle">)</text></g>
<text transform="translate(441.9,1243.9) scale(0.82,1)" x="0" y="0" font-family="Liberation Serif, Times New Roman, Times, serif" font-style="italic" font-size="52" fill="#000" text-anchor="middle">&#951;</text>
<text x="6.12" y="1301.40" font-family="Liberation Sans, Arial, Helvetica, sans-serif" font-weight="bold" font-size="31.5" fill="#000" textLength="37.55" lengthAdjust="spacingAndGlyphs">(c)</text>
<text x="51.72" y="1301.40" font-family="Liberation Sans, Arial, Helvetica, sans-serif" font-size="31.5" fill="#000" textLength="127.85" lengthAdjust="spacingAndGlyphs">Behavior</text>
<text x="185.93" y="1301.40" font-family="Liberation Sans, Arial, Helvetica, sans-serif" font-size="31.5" fill="#000" textLength="29.75" lengthAdjust="spacingAndGlyphs">of</text>
<text x="229.45" y="1301.40" font-family="Liberation Serif, Times New Roman, Times, serif" font-style="italic" font-size="31.5" fill="#000" text-anchor="middle">f</text>
<text x="241.35" y="1301.40" font-family="Liberation Sans, Arial, Helvetica, sans-serif" font-size="31.5" fill="#000" text-anchor="middle">&#8242;</text>
<text x="254.55" y="1301.40" font-family="Liberation Sans, Arial, Helvetica, sans-serif" font-size="31.5" fill="#000" text-anchor="middle">(</text>
<text x="269.70" y="1301.40" font-family="Liberation Serif, Times New Roman, Times, serif" font-style="italic" font-size="31.5" fill="#000" text-anchor="middle">&#951;</text>
<text x="284.15" y="1301.40" font-family="Liberation Sans, Arial, Helvetica, sans-serif" font-size="31.5" fill="#000" text-anchor="middle">)</text>
<text x="298.53" y="1301.40" font-family="Liberation Sans, Arial, Helvetica, sans-serif" font-size="31.5" fill="#000" textLength="34.95" lengthAdjust="spacingAndGlyphs">by</text>
<text x="338.93" y="1301.40" font-family="Liberation Sans, Arial, Helvetica, sans-serif" font-size="31.5" fill="#000" textLength="127.05" lengthAdjust="spacingAndGlyphs">variation</text>
<text x="473.93" y="1301.40" font-family="Liberation Sans, Arial, Helvetica, sans-serif" font-size="31.5" fill="#000" textLength="30.75" lengthAdjust="spacingAndGlyphs">of</text>
<text x="523.25" y="1301.40" font-family="Liberation Sans, Arial, Helvetica, sans-serif" font-style="italic" font-size="31.5" fill="#000" text-anchor="middle">M</text>
<text x="541.35" y="1301.40" font-family="Liberation Sans, Arial, Helvetica, sans-serif" font-size="31.5" fill="#000" text-anchor="middle">.</text>
<clipPath id="clipd"><rect x="1019.9" y="696.2" width="602.3000000000001" height="477.79999999999995"/></clipPath>
<g clip-path="url(#clipd)" fill="none" stroke-linecap="butt" stroke-linejoin="round">
<path d="M1029.90,699.20 L1032.34,704.76 L1034.78,710.28 L1037.22,715.75 L1039.65,721.17 L1042.09,726.54 L1044.53,731.86 L1046.97,737.14 L1049.41,742.37 L1051.85,747.54 L1054.28,752.67 L1056.72,757.75 L1059.16,762.78 L1061.60,767.76 L1064.04,772.69 L1066.48,777.57 L1068.92,782.40 L1071.35,787.18 L1073.79,791.90 L1076.23,796.58 L1078.67,801.21 L1081.11,805.78 L1083.55,810.30 L1085.99,814.77 L1088.42,819.19 L1090.86,823.55 L1093.30,827.87 L1095.74,832.13 L1098.18,836.33 L1100.62,840.49 L1103.05,844.59 L1105.49,848.63 L1107.93,852.63 L1110.37,856.57 L1112.81,860.45 L1115.25,864.28 L1117.69,868.06 L1120.12,871.78 L1122.56,875.44 L1125.00,879.06 L1127.44,882.62 L1129.88,886.13 L1132.32,889.59 L1134.76,893.00 L1137.19,896.35 L1139.63,899.67 L1142.07,902.93 L1144.51,906.14 L1146.95,909.31 L1149.39,912.43 L1151.82,915.51 L1154.26,918.54 L1156.70,921.53 L1159.14,924.47 L1161.58,927.38 L1164.02,930.24 L1166.46,933.06 L1168.89,935.84 L1171.33,938.58 L1173.77,941.28 L1176.21,943.94 L1178.65,946.56 L1181.09,949.15 L1183.53,951.71 L1185.96,954.22 L1188.40,956.71 L1190.84,959.15 L1193.28,961.57 L1195.72,963.95 L1198.16,966.30 L1200.59,968.62 L1203.03,970.90 L1205.47,973.16 L1207.91,975.38 L1210.35,977.57 L1212.79,979.74 L1215.23,981.87 L1217.66,983.98 L1220.10,986.06 L1222.54,988.11 L1224.98,990.13 L1227.42,992.13 L1229.86,994.10 L1232.29,996.04 L1234.73,997.96 L1237.17,999.86 L1239.61,1001.73 L1242.05,1003.57 L1244.49,1005.40 L1246.93,1007.20 L1249.36,1008.98 L1251.80,1010.74 L1254.24,1012.47 L1256.68,1014.19 L1259.12,1015.88 L1261.56,1017.56 L1264.00,1019.21 L1266.43,1020.85 L1268.87,1022.47 L1271.31,1024.07 L1273.75,1025.66 L1276.19,1027.23 L1278.63,1028.78 L1281.06,1030.31 L1283.50,1031.83 L1285.94,1033.34 L1288.38,1034.83 L1290.82,1036.31 L1293.26,1037.77 L1295.70,1039.23 L1298.13,1040.67 L1300.57,1042.09 L1303.01,1043.51 L1305.45,1044.92 L1307.89,1046.31 L1310.33,1047.70 L1312.77,1049.07 L1315.20,1050.44 L1317.64,1051.80 L1320.08,1053.15 L1322.52,1054.50 L1324.96,1055.83 L1327.40,1057.17 L1329.83,1058.49 L1332.27,1059.81 L1334.71,1061.12 L1337.15,1062.42 L1339.59,1063.72 L1342.03,1065.01 L1344.47,1066.29 L1346.90,1067.57 L1349.34,1068.84 L1351.78,1070.10 L1354.22,1071.35 L1356.66,1072.60 L1359.10,1073.84 L1361.54,1075.07 L1363.97,1076.30 L1366.41,1077.52 L1368.85,1078.73 L1371.29,1079.94 L1373.73,1081.13 L1376.17,1082.32 L1378.60,1083.50 L1381.04,1084.68 L1383.48,1085.85 L1385.92,1087.01 L1388.36,1088.16 L1390.80,1089.30 L1393.24,1090.44 L1395.67,1091.57 L1398.11,1092.69 L1400.55,1093.80 L1402.99,1094.91 L1405.43,1096.01 L1407.87,1097.10 L1410.31,1098.18 L1412.74,1099.26 L1415.18,1100.32 L1417.62,1101.38 L1420.06,1102.43 L1422.50,1103.47 L1424.94,1104.51 L1427.37,1105.53 L1429.81,1106.55 L1432.25,1107.56 L1434.69,1108.56 L1437.13,1109.56 L1439.57,1110.54 L1442.01,1111.52 L1444.44,1112.49 L1446.88,1113.45 L1449.32,1114.40 L1451.76,1115.34 L1454.20,1116.28 L1456.64,1117.20 L1459.07,1118.12 L1461.51,1119.03 L1463.95,1119.93 L1466.39,1120.82 L1468.83,1121.70 L1471.27,1122.58 L1473.71,1123.45 L1476.14,1124.31 L1478.58,1125.17 L1481.02,1126.02 L1483.46,1126.86 L1485.90,1127.70 L1488.34,1128.53 L1490.78,1129.36 L1493.21,1130.18 L1495.65,1131.00 L1498.09,1131.81 L1500.53,1132.62 L1502.97,1133.43 L1505.41,1134.23 L1507.84,1135.03 L1510.28,1135.83 L1512.72,1136.62 L1515.16,1137.42 L1517.60,1138.21 L1520.04,1139.00 L1522.48,1139.78 L1524.91,1140.57 L1527.35,1141.36 L1529.79,1142.15 L1532.23,1142.93 L1534.67,1143.72 L1537.11,1144.51 L1539.55,1145.30 L1541.98,1146.09 L1544.42,1146.88 L1546.86,1147.68 L1549.30,1148.47 L1551.74,1149.27 L1554.18,1150.08 L1556.61,1150.88 L1559.05,1151.69 L1561.49,1152.50 L1563.93,1153.32 L1566.37,1154.14 L1568.81,1154.97 L1571.25,1155.80 L1573.68,1156.63 L1576.12,1157.48 L1578.56,1158.33 L1581.00,1159.18 L1583.44,1160.04 L1585.88,1160.91 L1588.32,1161.78 L1590.75,1162.67 L1593.19,1163.56 L1595.63,1164.46 L1598.07,1165.36 L1600.51,1166.28 L1602.95,1167.20 L1605.38,1168.14 L1607.82,1169.08 L1610.26,1170.03 L1612.70,1171.00" stroke="#0000e8" stroke-width="3.3"/>
<path d="M1029.90,699.20 L1032.34,704.94 L1034.78,710.64 L1037.22,716.28 L1039.65,721.88 L1042.09,727.43 L1044.53,732.93 L1046.97,738.38 L1049.41,743.79 L1051.85,749.14 L1054.28,754.45 L1056.72,759.71 L1059.16,764.91 L1061.60,770.00 L1064.04,775.05 L1066.48,780.04 L1068.92,784.98 L1071.35,789.87 L1073.79,794.72 L1076.23,799.51 L1078.67,804.24 L1081.11,808.93 L1083.55,813.57 L1085.99,818.15 L1088.42,822.68 L1090.86,827.16 L1093.30,831.59 L1095.74,835.95 L1098.18,840.13 L1100.62,844.26 L1103.05,848.34 L1105.49,852.36 L1107.93,856.33 L1110.37,860.24 L1112.81,864.10 L1115.25,867.91 L1117.69,871.66 L1120.12,875.36 L1122.56,879.00 L1125.00,882.59 L1127.44,886.13 L1129.88,889.62 L1132.32,893.05 L1134.76,896.44 L1137.19,899.77 L1139.63,903.06 L1142.07,906.30 L1144.51,909.49 L1146.95,912.63 L1149.39,915.73 L1151.82,918.78 L1154.26,921.79 L1156.70,924.76 L1159.14,927.68 L1161.58,930.55 L1164.02,933.37 L1166.46,936.15 L1168.89,938.89 L1171.33,941.59 L1173.77,944.24 L1176.21,946.87 L1178.65,949.45 L1181.09,952.00 L1183.53,954.51 L1185.96,956.98 L1188.40,959.42 L1190.84,961.83 L1193.28,964.20 L1195.72,966.55 L1198.16,968.85 L1200.59,971.13 L1203.03,973.37 L1205.47,975.58 L1207.91,977.77 L1210.35,979.92 L1212.79,982.04 L1215.23,984.13 L1217.66,986.20 L1220.10,988.24 L1222.54,990.25 L1224.98,992.23 L1227.42,994.18 L1229.86,996.11 L1232.29,998.01 L1234.73,999.89 L1237.17,1001.75 L1239.61,1003.58 L1242.05,1005.38 L1244.49,1007.16 L1246.93,1008.92 L1249.36,1010.67 L1251.80,1012.41 L1254.24,1014.14 L1256.68,1015.84 L1259.12,1017.52 L1261.56,1019.18 L1264.00,1020.82 L1266.43,1022.45 L1268.87,1024.05 L1271.31,1025.64 L1273.75,1027.21 L1276.19,1028.76 L1278.63,1030.30 L1281.06,1031.82 L1283.50,1033.33 L1285.94,1034.82 L1288.38,1036.30 L1290.82,1037.76 L1293.26,1039.21 L1295.70,1040.65 L1298.13,1042.07 L1300.57,1043.49 L1303.01,1044.89 L1305.45,1046.28 L1307.89,1047.66 L1310.33,1049.04 L1312.77,1050.40 L1315.20,1051.75 L1317.64,1053.10 L1320.08,1054.43 L1322.52,1055.76 L1324.96,1057.09 L1327.40,1058.40 L1329.83,1059.71 L1332.27,1061.02 L1334.71,1062.31 L1337.15,1063.60 L1339.59,1064.89 L1342.03,1066.16 L1344.47,1067.43 L1346.90,1068.69 L1349.34,1069.95 L1351.78,1071.19 L1354.22,1072.44 L1356.66,1073.67 L1359.10,1074.90 L1361.54,1076.11 L1363.97,1077.33 L1366.41,1078.53 L1368.85,1079.73 L1371.29,1080.92 L1373.73,1082.10 L1376.17,1083.28 L1378.60,1084.44 L1381.04,1085.61 L1383.48,1086.76 L1385.92,1087.90 L1388.36,1089.04 L1390.80,1090.17 L1393.24,1091.29 L1395.67,1092.41 L1398.11,1093.53 L1400.55,1094.63 L1402.99,1095.73 L1405.43,1096.82 L1407.87,1097.90 L1410.31,1098.97 L1412.74,1100.04 L1415.18,1101.10 L1417.62,1102.14 L1420.06,1103.19 L1422.50,1104.22 L1424.94,1105.25 L1427.37,1106.26 L1429.81,1107.27 L1432.25,1108.27 L1434.69,1109.27 L1437.13,1110.25 L1439.57,1111.23 L1442.01,1112.19 L1444.44,1113.15 L1446.88,1114.10 L1449.32,1115.05 L1451.76,1115.98 L1454.20,1116.91 L1456.64,1117.82 L1459.07,1118.73 L1461.51,1119.63 L1463.95,1120.52 L1466.39,1121.41 L1468.83,1122.28 L1471.27,1123.15 L1473.71,1124.01 L1476.14,1124.86 L1478.58,1125.71 L1481.02,1126.55 L1483.46,1127.39 L1485.90,1128.21 L1488.34,1129.04 L1490.78,1129.86 L1493.21,1130.67 L1495.65,1131.48 L1498.09,1132.28 L1500.53,1133.08 L1502.97,1133.88 L1505.41,1134.67 L1507.84,1135.47 L1510.28,1136.25 L1512.72,1137.04 L1515.16,1137.82 L1517.60,1138.60 L1520.04,1139.38 L1522.48,1140.16 L1524.91,1140.94 L1527.35,1141.72 L1529.79,1142.49 L1532.23,1143.27 L1534.67,1144.05 L1537.11,1144.82 L1539.55,1145.60 L1541.98,1146.38 L1544.42,1147.17 L1546.86,1147.95 L1549.30,1148.74 L1551.74,1149.53 L1554.18,1150.32 L1556.61,1151.11 L1559.05,1151.91 L1561.49,1152.72 L1563.93,1153.52 L1566.37,1154.33 L1568.81,1155.15 L1571.25,1155.97 L1573.68,1156.80 L1576.12,1157.63 L1578.56,1158.47 L1581.00,1159.31 L1583.44,1160.16 L1585.88,1161.02 L1588.32,1161.88 L1590.75,1162.76 L1593.19,1163.64 L1595.63,1164.53 L1598.07,1165.42 L1600.51,1166.33 L1602.95,1167.24 L1605.38,1168.17 L1607.82,1169.10 L1610.26,1170.04 L1612.70,1171.00" stroke="#22dd22" stroke-width="3.3" stroke-dasharray="2.8 3.4"/>
<path d="M1029.90,699.20 L1032.34,705.12 L1034.78,710.99 L1037.22,716.81 L1039.65,722.59 L1042.09,728.32 L1044.53,734.00 L1046.97,739.63 L1049.41,745.21 L1051.85,750.74 L1054.28,756.23 L1056.72,761.66 L1059.16,767.04 L1061.60,772.25 L1064.04,777.40 L1066.48,782.51 L1068.92,787.57 L1071.35,792.57 L1073.79,797.53 L1076.23,802.43 L1078.67,807.28 L1081.11,812.08 L1083.55,816.83 L1085.99,821.53 L1088.42,826.18 L1090.86,830.77 L1093.30,835.31 L1095.74,839.76 L1098.18,843.92 L1100.62,848.03 L1103.05,852.08 L1105.49,856.08 L1107.93,860.03 L1110.37,863.92 L1112.81,867.76 L1115.25,871.54 L1117.69,875.27 L1120.12,878.94 L1122.56,882.56 L1125.00,886.13 L1127.44,889.64 L1129.88,893.10 L1132.32,896.51 L1134.76,899.88 L1137.19,903.19 L1139.63,906.45 L1142.07,909.66 L1144.51,912.83 L1146.95,915.95 L1149.39,919.03 L1151.82,922.06 L1154.26,925.04 L1156.70,927.98 L1159.14,930.88 L1161.58,933.73 L1164.02,936.50 L1166.46,939.24 L1168.89,941.94 L1171.33,944.59 L1173.77,947.21 L1176.21,949.79 L1178.65,952.34 L1181.09,954.84 L1183.53,957.31 L1185.96,959.74 L1188.40,962.14 L1190.84,964.51 L1193.28,966.84 L1195.72,969.14 L1198.16,971.41 L1200.59,973.64 L1203.03,975.84 L1205.47,978.01 L1207.91,980.15 L1210.35,982.27 L1212.79,984.35 L1215.23,986.40 L1217.66,988.42 L1220.10,990.42 L1222.54,992.38 L1224.98,994.32 L1227.42,996.24 L1229.86,998.13 L1232.29,999.99 L1234.73,1001.82 L1237.17,1003.64 L1239.61,1005.42 L1242.05,1007.19 L1244.49,1008.93 L1246.93,1010.65 L1249.36,1012.36 L1251.80,1014.09 L1254.24,1015.80 L1256.68,1017.49 L1259.12,1019.16 L1261.56,1020.80 L1264.00,1022.43 L1266.43,1024.04 L1268.87,1025.63 L1271.31,1027.20 L1273.75,1028.76 L1276.19,1030.30 L1278.63,1031.82 L1281.06,1033.33 L1283.50,1034.82 L1285.94,1036.30 L1288.38,1037.76 L1290.82,1039.21 L1293.26,1040.65 L1295.70,1042.07 L1298.13,1043.48 L1300.57,1044.88 L1303.01,1046.27 L1305.45,1047.65 L1307.89,1049.02 L1310.33,1050.37 L1312.77,1051.72 L1315.20,1053.06 L1317.64,1054.39 L1320.08,1055.72 L1322.52,1057.03 L1324.96,1058.34 L1327.40,1059.64 L1329.83,1060.94 L1332.27,1062.23 L1334.71,1063.51 L1337.15,1064.78 L1339.59,1066.05 L1342.03,1067.31 L1344.47,1068.57 L1346.90,1069.82 L1349.34,1071.06 L1351.78,1072.29 L1354.22,1073.52 L1356.66,1074.74 L1359.10,1075.95 L1361.54,1077.15 L1363.97,1078.35 L1366.41,1079.54 L1368.85,1080.73 L1371.29,1081.90 L1373.73,1083.07 L1376.17,1084.23 L1378.60,1085.38 L1381.04,1086.53 L1383.48,1087.67 L1385.92,1088.80 L1388.36,1089.92 L1390.80,1091.04 L1393.24,1092.15 L1395.67,1093.26 L1398.11,1094.36 L1400.55,1095.46 L1402.99,1096.54 L1405.43,1097.62 L1407.87,1098.70 L1410.31,1099.76 L1412.74,1100.82 L1415.18,1101.87 L1417.62,1102.91 L1420.06,1103.94 L1422.50,1104.97 L1424.94,1105.98 L1427.37,1106.99 L1429.81,1107.99 L1432.25,1108.98 L1434.69,1109.97 L1437.13,1110.94 L1439.57,1111.91 L1442.01,1112.87 L1444.44,1113.82 L1446.88,1114.76 L1449.32,1115.70 L1451.76,1116.62 L1454.20,1117.54 L1456.64,1118.45 L1459.07,1119.35 L1461.51,1120.24 L1463.95,1121.12 L1466.39,1121.99 L1468.83,1122.86 L1471.27,1123.72 L1473.71,1124.57 L1476.14,1125.41 L1478.58,1126.25 L1481.02,1127.08 L1483.46,1127.91 L1485.90,1128.73 L1488.34,1129.54 L1490.78,1130.35 L1493.21,1131.16 L1495.65,1131.96 L1498.09,1132.75 L1500.53,1133.54 L1502.97,1134.33 L1505.41,1135.12 L1507.84,1135.90 L1510.28,1136.68 L1512.72,1137.45 L1515.16,1138.23 L1517.60,1139.00 L1520.04,1139.77 L1522.48,1140.54 L1524.91,1141.30 L1527.35,1142.07 L1529.79,1142.84 L1532.23,1143.60 L1534.67,1144.37 L1537.11,1145.14 L1539.55,1145.91 L1541.98,1146.68 L1544.42,1147.45 L1546.86,1148.23 L1549.30,1149.00 L1551.74,1149.78 L1554.18,1150.56 L1556.61,1151.35 L1559.05,1152.14 L1561.49,1152.93 L1563.93,1153.73 L1566.37,1154.53 L1568.81,1155.33 L1571.25,1156.14 L1573.68,1156.96 L1576.12,1157.78 L1578.56,1158.61 L1581.00,1159.44 L1583.44,1160.28 L1585.88,1161.13 L1588.32,1161.99 L1590.75,1162.85 L1593.19,1163.72 L1595.63,1164.60 L1598.07,1165.48 L1600.51,1166.38 L1602.95,1167.28 L1605.38,1168.20 L1607.82,1169.12 L1610.26,1170.05 L1612.70,1171.00" stroke="#ee1111" stroke-width="3.3" stroke-dasharray="12.5 13"/>
<path d="M1029.90,699.20 L1032.34,705.16 L1034.78,711.07 L1037.22,716.93 L1039.65,722.75 L1042.09,728.51 L1044.53,734.23 L1046.97,739.90 L1049.41,745.52 L1051.85,751.10 L1054.28,756.62 L1056.72,762.09 L1059.16,767.51 L1061.60,772.74 L1064.04,777.93 L1066.48,783.06 L1068.92,788.14 L1071.35,793.17 L1073.79,798.15 L1076.23,803.08 L1078.67,807.96 L1081.11,812.78 L1083.55,817.56 L1085.99,822.28 L1088.42,826.95 L1090.86,831.57 L1093.30,836.13 L1095.74,840.61 L1098.18,844.77 L1100.62,848.87 L1103.05,852.92 L1105.49,856.91 L1107.93,860.85 L1110.37,864.74 L1112.81,868.57 L1115.25,872.35 L1117.69,876.07 L1120.12,879.74 L1122.56,883.35 L1125.00,886.91 L1127.44,890.42 L1129.88,893.88 L1132.32,897.28 L1134.76,900.64 L1137.19,903.95 L1139.63,907.20 L1142.07,910.41 L1144.51,913.58 L1146.95,916.69 L1149.39,919.76 L1151.82,922.78 L1154.26,925.76 L1156.70,928.70 L1159.14,931.59 L1161.58,934.43 L1164.02,937.20 L1166.46,939.93 L1168.89,942.62 L1171.33,945.26 L1173.77,947.87 L1176.21,950.44 L1178.65,952.98 L1181.09,955.47 L1183.53,957.93 L1185.96,960.36 L1188.40,962.75 L1190.84,965.10 L1193.28,967.43 L1195.72,969.72 L1198.16,971.97 L1200.59,974.20 L1203.03,976.39 L1205.47,978.55 L1207.91,980.69 L1210.35,982.79 L1212.79,984.86 L1215.23,986.90 L1217.66,988.92 L1220.10,990.90 L1222.54,992.86 L1224.98,994.79 L1227.42,996.69 L1229.86,998.57 L1232.29,1000.43 L1234.73,1002.25 L1237.17,1004.06 L1239.61,1005.84 L1242.05,1007.59 L1244.49,1009.32 L1246.93,1011.03 L1249.36,1012.74 L1251.80,1014.47 L1254.24,1016.17 L1256.68,1017.86 L1259.12,1019.52 L1261.56,1021.16 L1264.00,1022.79 L1266.43,1024.39 L1268.87,1025.98 L1271.31,1027.55 L1273.75,1029.11 L1276.19,1030.64 L1278.63,1032.16 L1281.06,1033.67 L1283.50,1035.15 L1285.94,1036.63 L1288.38,1038.09 L1290.82,1039.54 L1293.26,1040.97 L1295.70,1042.39 L1298.13,1043.80 L1300.57,1045.19 L1303.01,1046.58 L1305.45,1047.95 L1307.89,1049.32 L1310.33,1050.67 L1312.77,1052.02 L1315.20,1053.35 L1317.64,1054.68 L1320.08,1056.00 L1322.52,1057.31 L1324.96,1058.62 L1327.40,1059.92 L1329.83,1061.21 L1332.27,1062.50 L1334.71,1063.77 L1337.15,1065.05 L1339.59,1066.31 L1342.03,1067.57 L1344.47,1068.82 L1346.90,1070.07 L1349.34,1071.30 L1351.78,1072.53 L1354.22,1073.76 L1356.66,1074.97 L1359.10,1076.18 L1361.54,1077.38 L1363.97,1078.58 L1366.41,1079.77 L1368.85,1080.95 L1371.29,1082.12 L1373.73,1083.28 L1376.17,1084.44 L1378.60,1085.59 L1381.04,1086.74 L1383.48,1087.87 L1385.92,1089.00 L1388.36,1090.12 L1390.80,1091.23 L1393.24,1092.34 L1395.67,1093.44 L1398.11,1094.55 L1400.55,1095.64 L1402.99,1096.73 L1405.43,1097.80 L1407.87,1098.88 L1410.31,1099.94 L1412.74,1100.99 L1415.18,1102.04 L1417.62,1103.08 L1420.06,1104.11 L1422.50,1105.13 L1424.94,1106.15 L1427.37,1107.15 L1429.81,1108.15 L1432.25,1109.14 L1434.69,1110.12 L1437.13,1111.10 L1439.57,1112.06 L1442.01,1113.02 L1444.44,1113.97 L1446.88,1114.91 L1449.32,1115.84 L1451.76,1116.76 L1454.20,1117.68 L1456.64,1118.58 L1459.07,1119.48 L1461.51,1120.37 L1463.95,1121.25 L1466.39,1122.12 L1468.83,1122.99 L1471.27,1123.84 L1473.71,1124.69 L1476.14,1125.54 L1478.58,1126.37 L1481.02,1127.20 L1483.46,1128.03 L1485.90,1128.84 L1488.34,1129.66 L1490.78,1130.46 L1493.21,1131.27 L1495.65,1132.06 L1498.09,1132.86 L1500.53,1133.65 L1502.97,1134.43 L1505.41,1135.22 L1507.84,1136.00 L1510.28,1136.77 L1512.72,1137.55 L1515.16,1138.32 L1517.60,1139.09 L1520.04,1139.85 L1522.48,1140.62 L1524.91,1141.38 L1527.35,1142.15 L1529.79,1142.91 L1532.23,1143.68 L1534.67,1144.44 L1537.11,1145.21 L1539.55,1145.98 L1541.98,1146.74 L1544.42,1147.51 L1546.86,1148.29 L1549.30,1149.06 L1551.74,1149.84 L1554.18,1150.62 L1556.61,1151.40 L1559.05,1152.19 L1561.49,1152.98 L1563.93,1153.77 L1566.37,1154.57 L1568.81,1155.37 L1571.25,1156.18 L1573.68,1157.00 L1576.12,1157.82 L1578.56,1158.64 L1581.00,1159.47 L1583.44,1160.31 L1585.88,1161.16 L1588.32,1162.01 L1590.75,1162.87 L1593.19,1163.74 L1595.63,1164.61 L1598.07,1165.50 L1600.51,1166.39 L1602.95,1167.29 L1605.38,1168.20 L1607.82,1169.13 L1610.26,1170.06 L1612.70,1171.00" stroke="#000000" stroke-width="1.8" stroke-dasharray="12 4.5 3 4.5"/>
</g>
<path d="M1029.90,1171.00V1165.00M1029.90,699.20V705.20M1102.75,1171.00V1165.00M1102.75,699.20V705.20M1175.60,1171.00V1165.00M1175.60,699.20V705.20M1248.45,1171.00V1165.00M1248.45,699.20V705.20M1321.30,1171.00V1165.00M1321.30,699.20V705.20M1394.15,1171.00V1165.00M1394.15,699.20V705.20M1467.00,1171.00V1165.00M1467.00,699.20V705.20M1539.85,1171.00V1165.00M1539.85,699.20V705.20M1612.70,1171.00V1165.00M1612.70,699.20V705.20M1022.90,1076.64H1028.90M1619.20,1076.64H1613.20M1022.90,982.28H1028.90M1619.20,982.28H1613.20M1022.90,887.92H1028.90M1619.20,887.92H1613.20M1022.90,793.56H1028.90M1619.20,793.56H1613.20" stroke="#4a4a4a" stroke-width="1.6" fill="none"/>
<rect x="1022.90" y="699.20" width="596.30" height="471.80" fill="none" stroke="#4a4a4a" stroke-width="1.6" stroke-linejoin="round"/>
<g font-family="Liberation Sans, Arial, Helvetica, sans-serif" font-weight="bold" font-size="22" fill="#2b2b2b">
<text transform="translate(1029.90,1204.20) scale(1,1.06)" text-anchor="middle">0</text>
<text transform="translate(1102.75,1204.20) scale(1,1.06)" text-anchor="middle">0.5</text>
<text transform="translate(1175.60,1204.20) scale(1,1.06)" text-anchor="middle">1</text>
<text transform="translate(1248.45,1204.20) scale(1,1.06)" text-anchor="middle">1.5</text>
<text transform="translate(1321.30,1204.20) scale(1,1.06)" text-anchor="middle">2</text>
<text transform="translate(1394.15,1204.20) scale(1,1.06)" text-anchor="middle">2.5</text>
<text transform="translate(1467.00,1204.20) scale(1,1.06)" text-anchor="middle">3</text>
<text transform="translate(1539.85,1204.20) scale(1,1.06)" text-anchor="middle">3.5</text>
<text transform="translate(1612.70,1204.20) scale(1,1.06)" text-anchor="middle">4</text>
<text transform="translate(1013.10,1180.88) scale(1,1.06)" text-anchor="end">0</text>
<text transform="translate(1013.10,1086.52) scale(1,1.06)" text-anchor="end">0.2</text>
<text transform="translate(1013.10,992.16) scale(1,1.06)" text-anchor="end">0.4</text>
<text transform="translate(1013.10,897.80) scale(1,1.06)" text-anchor="end">0.6</text>
<text transform="translate(1013.10,803.44) scale(1,1.06)" text-anchor="end">0.8</text>
<text transform="translate(1013.10,709.08) scale(1,1.06)" text-anchor="end">1</text>
</g>
<rect x="1433.4" y="714.6" width="170.60" height="109.70" fill="#fff" stroke="#4a4a4a" stroke-width="1.5"/>
<path d="M1439.1,729.5H1493.8" stroke="#0000e8" stroke-width="3.3" fill="none"/>
<path d="M1439.1,755.8H1493.8" stroke="#22dd22" stroke-width="3.4" stroke-dasharray="2.6 2.8" fill="none"/>
<path d="M1439.1,783.1H1493.8" stroke="#ee1111" stroke-width="3.4" stroke-dasharray="11 11.2" fill="none"/>
<path d="M1439.1,809.5H1493.8" stroke="#000000" stroke-width="1.8" stroke-dasharray="10.8 4.5 2 4.5" fill="none"/>
<text x="1497.99" y="736.00" font-family="Liberation Sans, Arial, Helvetica, sans-serif" font-weight="bold" font-size="17.0" fill="#000" textLength="29.42" lengthAdjust="spacingAndGlyphs">C1:</text>
<text x="1535.19" y="736.00" font-family="Liberation Serif, Times New Roman, Times, serif" font-style="italic" font-size="19.5" fill="#000" textLength="14.52" lengthAdjust="spacingAndGlyphs">&#946;</text>
<text x="1554.79" y="736.00" font-family="Liberation Sans, Arial, Helvetica, sans-serif" font-weight="bold" font-size="17.0" fill="#000" textLength="10.52" lengthAdjust="spacingAndGlyphs">=</text>
<text x="1570.99" y="736.00" font-family="Liberation Sans, Arial, Helvetica, sans-serif" font-weight="bold" font-size="17.0" fill="#000" textLength="26.02" lengthAdjust="spacingAndGlyphs">0.2</text>
<text x="1497.99" y="762.30" font-family="Liberation Sans, Arial, Helvetica, sans-serif" font-weight="bold" font-size="17.0" fill="#000" textLength="29.42" lengthAdjust="spacingAndGlyphs">C2:</text>
<text x="1535.19" y="762.30" font-family="Liberation Serif, Times New Roman, Times, serif" font-style="italic" font-size="19.5" fill="#000" textLength="14.52" lengthAdjust="spacingAndGlyphs">&#946;</text>
<text x="1554.79" y="762.30" font-family="Liberation Sans, Arial, Helvetica, sans-serif" font-weight="bold" font-size="17.0" fill="#000" textLength="10.52" lengthAdjust="spacingAndGlyphs">=</text>
<text x="1570.99" y="762.30" font-family="Liberation Sans, Arial, Helvetica, sans-serif" font-weight="bold" font-size="17.0" fill="#000" textLength="26.02" lengthAdjust="spacingAndGlyphs">0.5</text>
<text x="1497.99" y="789.60" font-family="Liberation Sans, Arial, Helvetica, sans-serif" font-weight="bold" font-size="17.0" fill="#000" textLength="29.42" lengthAdjust="spacingAndGlyphs">C3:</text>
<text x="1535.19" y="789.60" font-family="Liberation Serif, Times New Roman, Times, serif" font-style="italic" font-size="19.5" fill="#000" textLength="14.52" lengthAdjust="spacingAndGlyphs">&#946;</text>
<text x="1554.79" y="789.60" font-family="Liberation Sans, Arial, Helvetica, sans-serif" font-weight="bold" font-size="17.0" fill="#000" textLength="10.52" lengthAdjust="spacingAndGlyphs">=</text>
<text x="1570.99" y="789.60" font-family="Liberation Sans, Arial, Helvetica, sans-serif" font-weight="bold" font-size="17.0" fill="#000" textLength="26.02" lengthAdjust="spacingAndGlyphs">0.8</text>
<text x="1497.99" y="816.00" font-family="Liberation Sans, Arial, Helvetica, sans-serif" font-weight="bold" font-size="17.0" fill="#000" textLength="29.42" lengthAdjust="spacingAndGlyphs">C4:</text>
<text x="1535.19" y="816.00" font-family="Liberation Serif, Times New Roman, Times, serif" font-style="italic" font-size="19.5" fill="#000" textLength="14.52" lengthAdjust="spacingAndGlyphs">&#946;</text>
<text x="1554.79" y="816.00" font-family="Liberation Sans, Arial, Helvetica, sans-serif" font-weight="bold" font-size="17.0" fill="#000" textLength="10.52" lengthAdjust="spacingAndGlyphs">=</text>
<text x="1570.99" y="816.00" font-family="Liberation Sans, Arial, Helvetica, sans-serif" font-weight="bold" font-size="17.0" fill="#000" textLength="26.02" lengthAdjust="spacingAndGlyphs">1.1</text>
<g transform="translate(966,995.1) rotate(-90)" font-family="Liberation Serif, Times New Roman, Times, serif" font-weight="bold" font-style="italic" fill="#000"><text transform="translate(10.03,0.00) scale(1.433,1.000)" font-size="44" text-anchor="middle">f</text><text transform="translate(29.70,12.50) scale(1.500,1.500)" font-size="44" text-anchor="middle">'</text><text transform="translate(41.65,0.00) scale(1.000,1.000)" font-size="44" text-anchor="middle">(</text><text transform="translate(64.00,0.00) scale(1.000,1.000)" font-size="44" text-anchor="middle">&#951;</text><text transform="translate(85.60,0.00) scale(1.000,1.000)" font-size="44" text-anchor="middle">)</text></g>
<text transform="translate(1372.8,1243.9) scale(0.82,1)" x="0" y="0" font-family="Liberation Serif, Times New Roman, Times, serif" font-style="italic" font-size="52" fill="#000" text-anchor="middle">&#951;</text>
<text x="939.62" y="1301.40" font-family="Liberation Sans, Arial, Helvetica, sans-serif" font-weight="bold" font-size="31.5" fill="#000" textLength="41.85" lengthAdjust="spacingAndGlyphs">(d)</text>
<text x="988.62" y="1301.40" font-family="Liberation Sans, Arial, Helvetica, sans-serif" font-size="31.5" fill="#000" textLength="127.85" lengthAdjust="spacingAndGlyphs">Behavior</text>
<text x="1122.83" y="1301.40" font-family="Liberation Sans, Arial, Helvetica, sans-serif" font-size="31.5" fill="#000" textLength="29.75" lengthAdjust="spacingAndGlyphs">of</text>
<text x="1166.40" y="1301.40" font-family="Liberation Serif, Times New Roman, Times, serif" font-style="italic" font-size="31.5" fill="#000" text-anchor="middle">f</text>
<text x="1178.90" y="1301.40" font-family="Liberation Sans, Arial, Helvetica, sans-serif" font-size="31.5" fill="#000" text-anchor="middle">&#8242;</text>
<text x="1191.85" y="1301.40" font-family="Liberation Sans, Arial, Helvetica, sans-serif" font-size="31.5" fill="#000" text-anchor="middle">(</text>
<text x="1206.40" y="1301.40" font-family="Liberation Serif, Times New Roman, Times, serif" font-style="italic" font-size="31.5" fill="#000" text-anchor="middle">&#951;</text>
<text x="1220.20" y="1301.40" font-family="Liberation Sans, Arial, Helvetica, sans-serif" font-size="31.5" fill="#000" text-anchor="middle">)</text>
<text x="1235.42" y="1301.40" font-family="Liberation Sans, Arial, Helvetica, sans-serif" font-size="31.5" fill="#000" textLength="34.05" lengthAdjust="spacingAndGlyphs">by</text>
<text x="1275.83" y="1301.40" font-family="Liberation Sans, Arial, Helvetica, sans-serif" font-size="31.5" fill="#000" textLength="126.95" lengthAdjust="spacingAndGlyphs">variation</text>
<text x="1410.83" y="1301.40" font-family="Liberation Sans, Arial, Helvetica, sans-serif" font-size="31.5" fill="#000" textLength="29.85" lengthAdjust="spacingAndGlyphs">of</text>
<text x="1456.70" y="1301.40" font-family="Liberation Serif, Times New Roman, Times, serif" font-style="italic" font-size="31.5" fill="#000" text-anchor="middle">&#946;</text>
<text x="1470.90" y="1301.40" font-family="Liberation Sans, Arial, Helvetica, sans-serif" font-size="31.5" fill="#000" text-anchor="middle">.</text>
</svg></body></html>
